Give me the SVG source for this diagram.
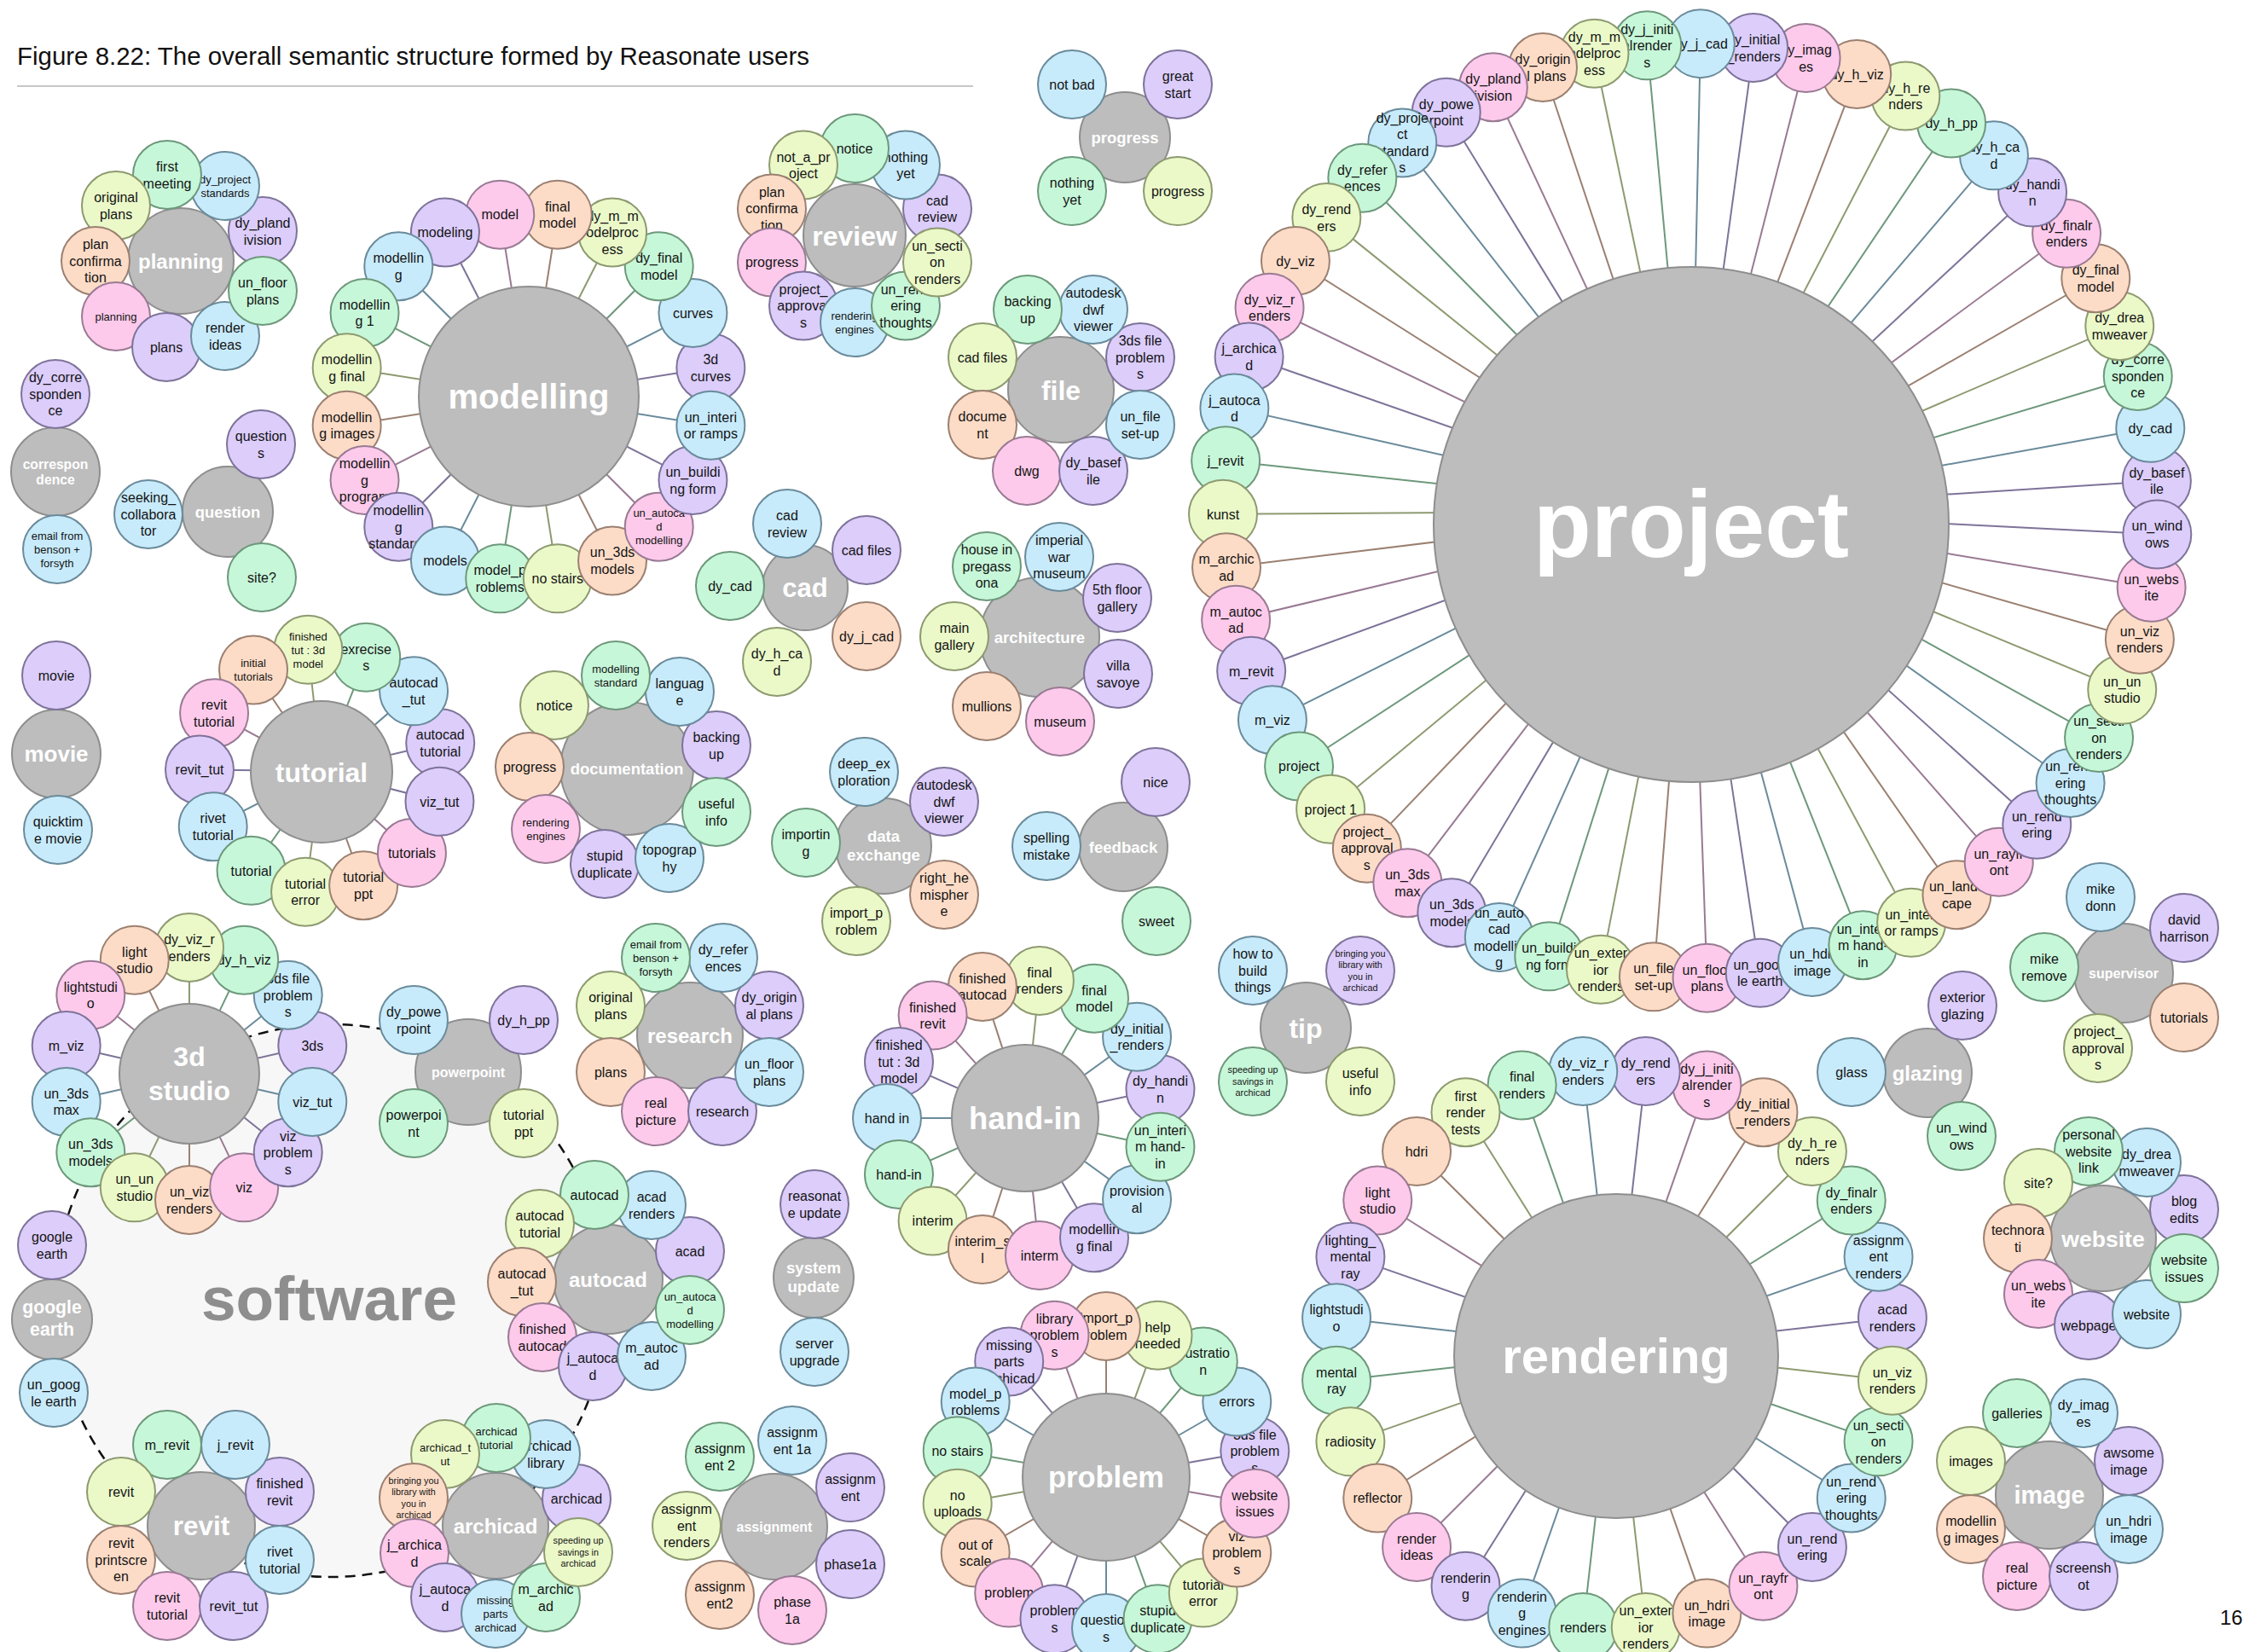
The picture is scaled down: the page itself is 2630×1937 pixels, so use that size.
<svg xmlns="http://www.w3.org/2000/svg" width="2630" height="1937" viewBox="0 0 2630 1937">
<style>
text{font-family:"Liberation Sans",Arial,Helvetica,sans-serif}
.h circle{fill:#bdbdbd;stroke:#8e8e8e;stroke-width:2}
.h text{font-weight:bold;fill:#fff;text-anchor:middle}
.n circle{stroke-width:2}
.n text{font-size:16px;fill:#141414;text-anchor:middle}
.n.s text{font-size:13px}
.n.t text{font-size:10.8px}
.b circle{fill:#c8ebfb;stroke:#6a8b9b}
.g circle{fill:#c7f7d9;stroke:#6d987b}
.y circle{fill:#ebf9c9;stroke:#8d9a70}
.o circle{fill:#fddcc7;stroke:#9b8071}
.p circle{fill:#fdcaeb;stroke:#997a93}
.v circle{fill:#dccdfb;stroke:#7e7399}
#connectors line{stroke-width:2}
.lb{stroke:#6a8b9b}.lg{stroke:#6d987b}.ly{stroke:#8d9a70}.lo{stroke:#9b8071}.lp{stroke:#997a93}.lv{stroke:#7e7399}
</style>
<rect width="2630" height="1937" fill="#fff"/>
<text x="20" y="76" font-size="30" textLength="929" lengthAdjust="spacingAndGlyphs" fill="#111">Figure 8.22: The overall semantic structure formed by Reasonate users</text>
<line x1="20" y1="101" x2="1141" y2="101" stroke="#c6c6c6" stroke-width="2"/>
<text x="2603" y="1905" font-size="24" fill="#111">169</text>

<g id="software"><circle cx="388" cy="1525" r="324" fill="#f7f7f7" stroke="#111" stroke-width="2.5" stroke-dasharray="12 8"/><text x="386" y="1548" font-size="73" font-weight="bold" fill="#8e8e8e" text-anchor="middle">software</text></g>

<g id="connectors">
<g id="c-modelling">
<line x1="620" y1="465" x2="836" y2="465" transform="rotate(-9 620 465)" class="lv"/>
<line x1="620" y1="465" x2="836" y2="465" transform="rotate(-27 620 465)" class="lb"/>
<line x1="620" y1="465" x2="836" y2="465" transform="rotate(-45 620 465)" class="lg"/>
<line x1="620" y1="465" x2="836" y2="465" transform="rotate(-63 620 465)" class="ly"/>
<line x1="620" y1="465" x2="836" y2="465" transform="rotate(-81 620 465)" class="lo"/>
<line x1="620" y1="465" x2="836" y2="465" transform="rotate(-99 620 465)" class="lp"/>
<line x1="620" y1="465" x2="836" y2="465" transform="rotate(-117 620 465)" class="lv"/>
<line x1="620" y1="465" x2="836" y2="465" transform="rotate(-135 620 465)" class="lb"/>
<line x1="620" y1="465" x2="836" y2="465" transform="rotate(-153 620 465)" class="lg"/>
<line x1="620" y1="465" x2="836" y2="465" transform="rotate(-171 620 465)" class="ly"/>
<line x1="620" y1="465" x2="836" y2="465" transform="rotate(171 620 465)" class="lo"/>
<line x1="620" y1="465" x2="836" y2="465" transform="rotate(153 620 465)" class="lp"/>
<line x1="620" y1="465" x2="836" y2="465" transform="rotate(135 620 465)" class="lv"/>
<line x1="620" y1="465" x2="836" y2="465" transform="rotate(117 620 465)" class="lb"/>
<line x1="620" y1="465" x2="836" y2="465" transform="rotate(99 620 465)" class="lg"/>
<line x1="620" y1="465" x2="836" y2="465" transform="rotate(81 620 465)" class="ly"/>
<line x1="620" y1="465" x2="836" y2="465" transform="rotate(63 620 465)" class="lo"/>
<line x1="620" y1="465" x2="836" y2="465" transform="rotate(45 620 465)" class="lp"/>
<line x1="620" y1="465" x2="836" y2="465" transform="rotate(27 620 465)" class="lv"/>
<line x1="620" y1="465" x2="836" y2="465" transform="rotate(9 620 465)" class="lb"/>
</g>
<g id="c-tutorial">
<line x1="377" y1="904" x2="520" y2="904" transform="rotate(346.8 377 904)" class="lv"/>
<line x1="377" y1="904" x2="520" y2="904" transform="rotate(319.1 377 904)" class="lb"/>
<line x1="377" y1="904" x2="520" y2="904" transform="rotate(291.4 377 904)" class="lg"/>
<line x1="377" y1="904" x2="520" y2="904" transform="rotate(263.7 377 904)" class="ly"/>
<line x1="377" y1="904" x2="520" y2="904" transform="rotate(236 377 904)" class="lo"/>
<line x1="377" y1="904" x2="520" y2="904" transform="rotate(208.3 377 904)" class="lp"/>
<line x1="377" y1="904" x2="520" y2="904" transform="rotate(180.6 377 904)" class="lv"/>
<line x1="377" y1="904" x2="520" y2="904" transform="rotate(152.9 377 904)" class="lb"/>
<line x1="377" y1="904" x2="520" y2="904" transform="rotate(125.2 377 904)" class="lg"/>
<line x1="377" y1="904" x2="520" y2="904" transform="rotate(97.6 377 904)" class="ly"/>
<line x1="377" y1="904" x2="520" y2="904" transform="rotate(69.9 377 904)" class="lo"/>
<line x1="377" y1="904" x2="520" y2="904" transform="rotate(42.2 377 904)" class="lp"/>
<line x1="377" y1="904" x2="520" y2="904" transform="rotate(14.5 377 904)" class="lv"/>
</g>
<g id="c-handin">
<line x1="1202" y1="1311" x2="1364" y2="1311" transform="rotate(348 1202 1311)" class="lv"/>
<line x1="1202" y1="1311" x2="1364" y2="1311" transform="rotate(324 1202 1311)" class="lb"/>
<line x1="1202" y1="1311" x2="1364" y2="1311" transform="rotate(300 1202 1311)" class="lg"/>
<line x1="1202" y1="1311" x2="1364" y2="1311" transform="rotate(276 1202 1311)" class="ly"/>
<line x1="1202" y1="1311" x2="1364" y2="1311" transform="rotate(252 1202 1311)" class="lo"/>
<line x1="1202" y1="1311" x2="1364" y2="1311" transform="rotate(228 1202 1311)" class="lp"/>
<line x1="1202" y1="1311" x2="1364" y2="1311" transform="rotate(204 1202 1311)" class="lv"/>
<line x1="1202" y1="1311" x2="1364" y2="1311" transform="rotate(180 1202 1311)" class="lb"/>
<line x1="1202" y1="1311" x2="1364" y2="1311" transform="rotate(156 1202 1311)" class="lg"/>
<line x1="1202" y1="1311" x2="1364" y2="1311" transform="rotate(132 1202 1311)" class="ly"/>
<line x1="1202" y1="1311" x2="1364" y2="1311" transform="rotate(108 1202 1311)" class="lo"/>
<line x1="1202" y1="1311" x2="1364" y2="1311" transform="rotate(84 1202 1311)" class="lp"/>
<line x1="1202" y1="1311" x2="1364" y2="1311" transform="rotate(60 1202 1311)" class="lv"/>
<line x1="1202" y1="1311" x2="1364" y2="1311" transform="rotate(36 1202 1311)" class="lb"/>
<line x1="1202" y1="1311" x2="1364" y2="1311" transform="rotate(12 1202 1311)" class="lg"/>
</g>
<g id="c-problem">
<line x1="1297" y1="1732" x2="1474" y2="1732" transform="rotate(-10 1297 1732)" class="lv"/>
<line x1="1297" y1="1732" x2="1474" y2="1732" transform="rotate(-30 1297 1732)" class="lb"/>
<line x1="1297" y1="1732" x2="1474" y2="1732" transform="rotate(-50 1297 1732)" class="lg"/>
<line x1="1297" y1="1732" x2="1474" y2="1732" transform="rotate(-70 1297 1732)" class="ly"/>
<line x1="1297" y1="1732" x2="1474" y2="1732" transform="rotate(-90 1297 1732)" class="lo"/>
<line x1="1297" y1="1732" x2="1474" y2="1732" transform="rotate(-110 1297 1732)" class="lp"/>
<line x1="1297" y1="1732" x2="1474" y2="1732" transform="rotate(-130 1297 1732)" class="lv"/>
<line x1="1297" y1="1732" x2="1474" y2="1732" transform="rotate(-150 1297 1732)" class="lb"/>
<line x1="1297" y1="1732" x2="1474" y2="1732" transform="rotate(-170 1297 1732)" class="lg"/>
<line x1="1297" y1="1732" x2="1474" y2="1732" transform="rotate(170 1297 1732)" class="ly"/>
<line x1="1297" y1="1732" x2="1474" y2="1732" transform="rotate(150 1297 1732)" class="lo"/>
<line x1="1297" y1="1732" x2="1474" y2="1732" transform="rotate(130 1297 1732)" class="lp"/>
<line x1="1297" y1="1732" x2="1474" y2="1732" transform="rotate(110 1297 1732)" class="lv"/>
<line x1="1297" y1="1732" x2="1474" y2="1732" transform="rotate(90 1297 1732)" class="lb"/>
<line x1="1297" y1="1732" x2="1474" y2="1732" transform="rotate(70 1297 1732)" class="lg"/>
<line x1="1297" y1="1732" x2="1474" y2="1732" transform="rotate(50 1297 1732)" class="ly"/>
<line x1="1297" y1="1732" x2="1474" y2="1732" transform="rotate(30 1297 1732)" class="lo"/>
<line x1="1297" y1="1732" x2="1474" y2="1732" transform="rotate(10 1297 1732)" class="lp"/>
</g>
<g id="c-3dstudio">
<line x1="222" y1="1259" x2="370" y2="1259" transform="rotate(-12.86 222 1259)" class="lv"/>
<line x1="222" y1="1259" x2="370" y2="1259" transform="rotate(-38.57 222 1259)" class="lb"/>
<line x1="222" y1="1259" x2="370" y2="1259" transform="rotate(-64.29 222 1259)" class="lg"/>
<line x1="222" y1="1259" x2="370" y2="1259" transform="rotate(-90 222 1259)" class="ly"/>
<line x1="222" y1="1259" x2="370" y2="1259" transform="rotate(-115.71 222 1259)" class="lo"/>
<line x1="222" y1="1259" x2="370" y2="1259" transform="rotate(-141.43 222 1259)" class="lp"/>
<line x1="222" y1="1259" x2="370" y2="1259" transform="rotate(-167.14 222 1259)" class="lv"/>
<line x1="222" y1="1259" x2="370" y2="1259" transform="rotate(167.14 222 1259)" class="lb"/>
<line x1="222" y1="1259" x2="370" y2="1259" transform="rotate(141.43 222 1259)" class="lg"/>
<line x1="222" y1="1259" x2="370" y2="1259" transform="rotate(115.71 222 1259)" class="ly"/>
<line x1="222" y1="1259" x2="370" y2="1259" transform="rotate(90 222 1259)" class="lo"/>
<line x1="222" y1="1259" x2="370" y2="1259" transform="rotate(64.29 222 1259)" class="lp"/>
<line x1="222" y1="1259" x2="370" y2="1259" transform="rotate(38.57 222 1259)" class="lv"/>
<line x1="222" y1="1259" x2="370" y2="1259" transform="rotate(12.86 222 1259)" class="lb"/>
</g>
<g id="c-project">
<line x1="1982" y1="599" x2="2530" y2="599" transform="rotate(356.33 1982 599)" class="lv"/>
<line x1="1982" y1="599" x2="2530" y2="599" transform="rotate(349.78 1982 599)" class="lb"/>
<line x1="1982" y1="599" x2="2530" y2="599" transform="rotate(343.24 1982 599)" class="lg"/>
<line x1="1982" y1="599" x2="2530" y2="599" transform="rotate(336.69 1982 599)" class="ly"/>
<line x1="1982" y1="599" x2="2530" y2="599" transform="rotate(330.15 1982 599)" class="lo"/>
<line x1="1982" y1="599" x2="2530" y2="599" transform="rotate(323.6 1982 599)" class="lp"/>
<line x1="1982" y1="599" x2="2530" y2="599" transform="rotate(317.05 1982 599)" class="lv"/>
<line x1="1982" y1="599" x2="2530" y2="599" transform="rotate(310.51 1982 599)" class="lb"/>
<line x1="1982" y1="599" x2="2530" y2="599" transform="rotate(303.96 1982 599)" class="lg"/>
<line x1="1982" y1="599" x2="2530" y2="599" transform="rotate(297.42 1982 599)" class="ly"/>
<line x1="1982" y1="599" x2="2530" y2="599" transform="rotate(290.87 1982 599)" class="lo"/>
<line x1="1982" y1="599" x2="2530" y2="599" transform="rotate(284.33 1982 599)" class="lp"/>
<line x1="1982" y1="599" x2="2530" y2="599" transform="rotate(277.78 1982 599)" class="lv"/>
<line x1="1982" y1="599" x2="2530" y2="599" transform="rotate(271.24 1982 599)" class="lb"/>
<line x1="1982" y1="599" x2="2530" y2="599" transform="rotate(264.69 1982 599)" class="lg"/>
<line x1="1982" y1="599" x2="2530" y2="599" transform="rotate(258.15 1982 599)" class="ly"/>
<line x1="1982" y1="599" x2="2530" y2="599" transform="rotate(251.6 1982 599)" class="lo"/>
<line x1="1982" y1="599" x2="2530" y2="599" transform="rotate(245.05 1982 599)" class="lp"/>
<line x1="1982" y1="599" x2="2530" y2="599" transform="rotate(238.51 1982 599)" class="lv"/>
<line x1="1982" y1="599" x2="2530" y2="599" transform="rotate(231.96 1982 599)" class="lb"/>
<line x1="1982" y1="599" x2="2530" y2="599" transform="rotate(225.42 1982 599)" class="lg"/>
<line x1="1982" y1="599" x2="2530" y2="599" transform="rotate(218.87 1982 599)" class="ly"/>
<line x1="1982" y1="599" x2="2530" y2="599" transform="rotate(212.33 1982 599)" class="lo"/>
<line x1="1982" y1="599" x2="2530" y2="599" transform="rotate(205.78 1982 599)" class="lp"/>
<line x1="1982" y1="599" x2="2530" y2="599" transform="rotate(199.24 1982 599)" class="lv"/>
<line x1="1982" y1="599" x2="2530" y2="599" transform="rotate(192.69 1982 599)" class="lb"/>
<line x1="1982" y1="599" x2="2530" y2="599" transform="rotate(186.15 1982 599)" class="lg"/>
<line x1="1982" y1="599" x2="2530" y2="599" transform="rotate(179.6 1982 599)" class="ly"/>
<line x1="1982" y1="599" x2="2530" y2="599" transform="rotate(173.05 1982 599)" class="lo"/>
<line x1="1982" y1="599" x2="2530" y2="599" transform="rotate(166.51 1982 599)" class="lp"/>
<line x1="1982" y1="599" x2="2530" y2="599" transform="rotate(159.96 1982 599)" class="lv"/>
<line x1="1982" y1="599" x2="2530" y2="599" transform="rotate(153.42 1982 599)" class="lb"/>
<line x1="1982" y1="599" x2="2530" y2="599" transform="rotate(146.87 1982 599)" class="lg"/>
<line x1="1982" y1="599" x2="2530" y2="599" transform="rotate(140.33 1982 599)" class="ly"/>
<line x1="1982" y1="599" x2="2530" y2="599" transform="rotate(133.78 1982 599)" class="lo"/>
<line x1="1982" y1="599" x2="2530" y2="599" transform="rotate(127.24 1982 599)" class="lp"/>
<line x1="1982" y1="599" x2="2530" y2="599" transform="rotate(120.69 1982 599)" class="lv"/>
<line x1="1982" y1="599" x2="2530" y2="599" transform="rotate(114.15 1982 599)" class="lb"/>
<line x1="1982" y1="599" x2="2530" y2="599" transform="rotate(107.6 1982 599)" class="lg"/>
<line x1="1982" y1="599" x2="2530" y2="599" transform="rotate(101.05 1982 599)" class="ly"/>
<line x1="1982" y1="599" x2="2530" y2="599" transform="rotate(94.51 1982 599)" class="lo"/>
<line x1="1982" y1="599" x2="2530" y2="599" transform="rotate(87.96 1982 599)" class="lp"/>
<line x1="1982" y1="599" x2="2530" y2="599" transform="rotate(81.42 1982 599)" class="lv"/>
<line x1="1982" y1="599" x2="2530" y2="599" transform="rotate(74.87 1982 599)" class="lb"/>
<line x1="1982" y1="599" x2="2530" y2="599" transform="rotate(68.33 1982 599)" class="lg"/>
<line x1="1982" y1="599" x2="2530" y2="599" transform="rotate(61.78 1982 599)" class="ly"/>
<line x1="1982" y1="599" x2="2530" y2="599" transform="rotate(55.24 1982 599)" class="lo"/>
<line x1="1982" y1="599" x2="2530" y2="599" transform="rotate(48.69 1982 599)" class="lp"/>
<line x1="1982" y1="599" x2="2530" y2="599" transform="rotate(42.15 1982 599)" class="lv"/>
<line x1="1982" y1="599" x2="2530" y2="599" transform="rotate(35.6 1982 599)" class="lb"/>
<line x1="1982" y1="599" x2="2530" y2="599" transform="rotate(29.05 1982 599)" class="lg"/>
<line x1="1982" y1="599" x2="2530" y2="599" transform="rotate(22.51 1982 599)" class="ly"/>
<line x1="1982" y1="599" x2="2530" y2="599" transform="rotate(15.96 1982 599)" class="lo"/>
<line x1="1982" y1="599" x2="2530" y2="599" transform="rotate(9.42 1982 599)" class="lp"/>
<line x1="1982" y1="599" x2="2530" y2="599" transform="rotate(2.87 1982 599)" class="lv"/>
</g>
<g id="c-rendering">
<line x1="1893" y1="1582" x2="2221" y2="1582" transform="rotate(353.57 1893 1582)" class="lv"/>
<line x1="1893" y1="1582" x2="2221" y2="1582" transform="rotate(340.71 1893 1582)" class="lb"/>
<line x1="1893" y1="1582" x2="2221" y2="1582" transform="rotate(327.86 1893 1582)" class="lg"/>
<line x1="1893" y1="1582" x2="2221" y2="1582" transform="rotate(315 1893 1582)" class="ly"/>
<line x1="1893" y1="1582" x2="2221" y2="1582" transform="rotate(302.14 1893 1582)" class="lo"/>
<line x1="1893" y1="1582" x2="2221" y2="1582" transform="rotate(289.29 1893 1582)" class="lp"/>
<line x1="1893" y1="1582" x2="2221" y2="1582" transform="rotate(276.43 1893 1582)" class="lv"/>
<line x1="1893" y1="1582" x2="2221" y2="1582" transform="rotate(263.57 1893 1582)" class="lb"/>
<line x1="1893" y1="1582" x2="2221" y2="1582" transform="rotate(250.71 1893 1582)" class="lg"/>
<line x1="1893" y1="1582" x2="2221" y2="1582" transform="rotate(237.86 1893 1582)" class="ly"/>
<line x1="1893" y1="1582" x2="2221" y2="1582" transform="rotate(225 1893 1582)" class="lo"/>
<line x1="1893" y1="1582" x2="2221" y2="1582" transform="rotate(212.14 1893 1582)" class="lp"/>
<line x1="1893" y1="1582" x2="2221" y2="1582" transform="rotate(199.29 1893 1582)" class="lv"/>
<line x1="1893" y1="1582" x2="2221" y2="1582" transform="rotate(186.43 1893 1582)" class="lb"/>
<line x1="1893" y1="1582" x2="2221" y2="1582" transform="rotate(173.57 1893 1582)" class="lg"/>
<line x1="1893" y1="1582" x2="2221" y2="1582" transform="rotate(160.71 1893 1582)" class="ly"/>
<line x1="1893" y1="1582" x2="2221" y2="1582" transform="rotate(147.86 1893 1582)" class="lo"/>
<line x1="1893" y1="1582" x2="2221" y2="1582" transform="rotate(135 1893 1582)" class="lp"/>
<line x1="1893" y1="1582" x2="2221" y2="1582" transform="rotate(122.14 1893 1582)" class="lv"/>
<line x1="1893" y1="1582" x2="2221" y2="1582" transform="rotate(109.29 1893 1582)" class="lb"/>
<line x1="1893" y1="1582" x2="2221" y2="1582" transform="rotate(96.43 1893 1582)" class="lg"/>
<line x1="1893" y1="1582" x2="2221" y2="1582" transform="rotate(83.57 1893 1582)" class="ly"/>
<line x1="1893" y1="1582" x2="2221" y2="1582" transform="rotate(70.71 1893 1582)" class="lo"/>
<line x1="1893" y1="1582" x2="2221" y2="1582" transform="rotate(57.86 1893 1582)" class="lp"/>
<line x1="1893" y1="1582" x2="2221" y2="1582" transform="rotate(45 1893 1582)" class="lv"/>
<line x1="1893" y1="1582" x2="2221" y2="1582" transform="rotate(32.14 1893 1582)" class="lb"/>
<line x1="1893" y1="1582" x2="2221" y2="1582" transform="rotate(19.29 1893 1582)" class="lg"/>
<line x1="1893" y1="1582" x2="2221" y2="1582" transform="rotate(6.43 1893 1582)" class="ly"/>
</g>
</g>

<!-- planning -->
<g id="hub-planning" class="h"><circle cx="212" cy="306" r="62"/><text x="212" y="315" font-size="24">planning</text></g>
<g id="pl-dy-plandivision" class="n v" transform="translate(308 271)"><circle r="40"/><text y="-4">dy_pland<tspan x="0" dy="19.5">ivision</tspan></text></g>
<g id="pl-dy-project-standards" class="n b s" transform="translate(264 218)"><circle r="40"/><text y="-3.3">dy_project<tspan x="0" dy="16">standards</tspan></text></g>
<g id="pl-first-meeting" class="n g" transform="translate(196 205)"><circle r="40"/><text y="-4">first<tspan x="0" dy="19.5">meeting</tspan></text></g>
<g id="pl-original-plans" class="n y" transform="translate(136 241)"><circle r="40"/><text y="-4">original<tspan x="0" dy="19.5">plans</tspan></text></g>
<g id="pl-plan-confirmation" class="n o" transform="translate(112 306)"><circle r="40"/><text y="-13.7">plan<tspan x="0" dy="19.5">confirma</tspan><tspan x="0" dy="19.5">tion</tspan></text></g>
<g id="pl-planning" class="n p s" transform="translate(136 371)"><circle r="40"/><text y="4.7">planning</text></g>
<g id="pl-plans" class="n v" transform="translate(195 407)"><circle r="40"/><text y="5.8">plans</text></g>
<g id="pl-render-ideas" class="n b" transform="translate(264 394)"><circle r="40"/><text y="-4">render<tspan x="0" dy="19.5">ideas</tspan></text></g>
<g id="pl-un-floor-plans" class="n g" transform="translate(308 341)"><circle r="40"/><text y="-4">un_floor<tspan x="0" dy="19.5">plans</tspan></text></g>

<!-- modelling -->
<g id="hub-modelling" class="h"><circle cx="620" cy="465" r="129"/><text x="620" y="479" font-size="40">modelling</text></g>
<g id="mo-3d-curves" class="n v" transform="rotate(-9 620 465) translate(836 465) rotate(9)"><circle r="40"/><text y="-4">3d<tspan x="0" dy="19.5">curves</tspan></text></g>
<g id="mo-curves" class="n b" transform="rotate(-27 620 465) translate(836 465) rotate(27)"><circle r="40"/><text y="5.8">curves</text></g>
<g id="mo-dy-final-model" class="n g" transform="rotate(-45 620 465) translate(836 465) rotate(45)"><circle r="40"/><text y="-4">dy_final<tspan x="0" dy="19.5">model</tspan></text></g>
<g id="mo-dy-m-modelprocess" class="n y" transform="rotate(-63 620 465) translate(836 465) rotate(63)"><circle r="40"/><text y="-13.7">dy_m_m<tspan x="0" dy="19.5">odelproc</tspan><tspan x="0" dy="19.5">ess</tspan></text></g>
<g id="mo-final-model" class="n o" transform="rotate(-81 620 465) translate(836 465) rotate(81)"><circle r="40"/><text y="-4">final<tspan x="0" dy="19.5">model</tspan></text></g>
<g id="mo-model" class="n p" transform="rotate(-99 620 465) translate(836 465) rotate(99)"><circle r="40"/><text y="5.8">model</text></g>
<g id="mo-modeling" class="n v" transform="rotate(-117 620 465) translate(836 465) rotate(117)"><circle r="40"/><text y="5.8">modeling</text></g>
<g id="mo-modelling" class="n b" transform="rotate(-135 620 465) translate(836 465) rotate(135)"><circle r="40"/><text y="-4">modellin<tspan x="0" dy="19.5">g</tspan></text></g>
<g id="mo-modelling-1" class="n g" transform="rotate(-153 620 465) translate(836 465) rotate(153)"><circle r="40"/><text y="-4">modellin<tspan x="0" dy="19.5">g 1</tspan></text></g>
<g id="mo-modelling-final" class="n y" transform="rotate(-171 620 465) translate(836 465) rotate(171)"><circle r="40"/><text y="-4">modellin<tspan x="0" dy="19.5">g final</tspan></text></g>
<g id="mo-modelling-images" class="n o" transform="rotate(171 620 465) translate(836 465) rotate(-171)"><circle r="40"/><text y="-4">modellin<tspan x="0" dy="19.5">g images</tspan></text></g>
<g id="mo-modelling-program" class="n p" transform="rotate(153 620 465) translate(836 465) rotate(-153)"><circle r="40"/><text y="-13.7">modellin<tspan x="0" dy="19.5">g</tspan><tspan x="0" dy="19.5">program</tspan></text></g>
<g id="mo-modelling-standards" class="n v" transform="rotate(135 620 465) translate(836 465) rotate(-135)"><circle r="40"/><text y="-13.7">modellin<tspan x="0" dy="19.5">g</tspan><tspan x="0" dy="19.5">standards</tspan></text></g>
<g id="mo-models" class="n b" transform="rotate(117 620 465) translate(836 465) rotate(-117)"><circle r="40"/><text y="5.8">models</text></g>
<g id="mo-model-problems" class="n g" transform="rotate(99 620 465) translate(836 465) rotate(-99)"><circle r="40"/><text y="-4">model_p<tspan x="0" dy="19.5">roblems</tspan></text></g>
<g id="mo-no-stairs" class="n y" transform="rotate(81 620 465) translate(836 465) rotate(-81)"><circle r="40"/><text y="5.8">no stairs</text></g>
<g id="mo-un-3ds-models" class="n o" transform="rotate(63 620 465) translate(836 465) rotate(-63)"><circle r="40"/><text y="-4">un_3ds<tspan x="0" dy="19.5">models</tspan></text></g>
<g id="mo-un-autocad-modelling" class="n p s" transform="rotate(45 620 465) translate(836 465) rotate(-45)"><circle r="40"/><text y="-11.3">un_autoca<tspan x="0" dy="16">d</tspan><tspan x="0" dy="16">modelling</tspan></text></g>
<g id="mo-un-building-form" class="n v" transform="rotate(27 620 465) translate(836 465) rotate(-27)"><circle r="40"/><text y="-4">un_buildi<tspan x="0" dy="19.5">ng form</tspan></text></g>
<g id="mo-un-interior-ramps" class="n b" transform="rotate(9 620 465) translate(836 465) rotate(-9)"><circle r="40"/><text y="-4">un_interi<tspan x="0" dy="19.5">or ramps</tspan></text></g>

<!-- review -->
<g id="hub-review" class="h"><circle cx="1002" cy="276" r="60"/><text x="1002" y="287.5" font-size="32">review</text></g>
<g id="rv-cad-review" class="n v" transform="translate(1099 244.5)"><circle r="40"/><text y="-4">cad<tspan x="0" dy="19.5">review</tspan></text></g>
<g id="rv-nothing-yet" class="n b" transform="translate(1062 193.5)"><circle r="40"/><text y="-4">nothing<tspan x="0" dy="19.5">yet</tspan></text></g>
<g id="rv-notice" class="n g" transform="translate(1002 174)"><circle r="40"/><text y="5.8">notice</text></g>
<g id="rv-not-a-project" class="n y" transform="translate(942 193.5)"><circle r="40"/><text y="-4">not_a_pr<tspan x="0" dy="19.5">oject</tspan></text></g>
<g id="rv-plan-confirmation" class="n o" transform="translate(905 244.5)"><circle r="40"/><text y="-13.7">plan<tspan x="0" dy="19.5">confirma</tspan><tspan x="0" dy="19.5">tion</tspan></text></g>
<g id="rv-progress" class="n p" transform="translate(905 307.5)"><circle r="40"/><text y="5.8">progress</text></g>
<g id="rv-project-approvals" class="n v" transform="translate(942 358.5)"><circle r="40"/><text y="-13.7">project_<tspan x="0" dy="19.5">approval</tspan><tspan x="0" dy="19.5">s</tspan></text></g>
<g id="rv-rendering-engines" class="n b s" transform="translate(1002 378)"><circle r="40"/><text y="-3.3">rendering<tspan x="0" dy="16">engines</tspan></text></g>
<g id="rv-un-rendering-thoughts" class="n g" transform="translate(1062 358.5)"><circle r="40"/><text y="-13.7">un_rend<tspan x="0" dy="19.5">ering</tspan><tspan x="0" dy="19.5">thoughts</tspan></text></g>
<g id="rv-un-section-renders" class="n y" transform="translate(1099 307.5)"><circle r="40"/><text y="-13.7">un_secti<tspan x="0" dy="19.5">on</tspan><tspan x="0" dy="19.5">renders</tspan></text></g>

<!-- progress -->
<g id="hub-progress" class="h"><circle cx="1319" cy="161" r="53"/><text x="1319" y="167.5" font-size="18.5">progress</text></g>
<g id="pg-great-start" class="n v" transform="translate(1381 99)"><circle r="40"/><text y="-4">great<tspan x="0" dy="19.5">start</tspan></text></g>
<g id="pg-not-bad" class="n b" transform="translate(1257 99)"><circle r="40"/><text y="5.8">not bad</text></g>
<g id="pg-nothing-yet" class="n g" transform="translate(1257 224)"><circle r="40"/><text y="-4">nothing<tspan x="0" dy="19.5">yet</tspan></text></g>
<g id="pg-progress" class="n y" transform="translate(1381 224)"><circle r="40"/><text y="5.8">progress</text></g>

<!-- file -->
<g id="hub-file" class="h"><circle cx="1244" cy="457" r="62"/><text x="1244" y="468.5" font-size="32">file</text></g>
<g id="fi-3ds-file-problems" class="n v" transform="translate(1337 419)"><circle r="40"/><text y="-13.7">3ds file<tspan x="0" dy="19.5">problem</tspan><tspan x="0" dy="19.5">s</tspan></text></g>
<g id="fi-autodesk-dwf-viewer" class="n b" transform="translate(1282 363)"><circle r="40"/><text y="-13.7">autodesk<tspan x="0" dy="19.5">dwf</tspan><tspan x="0" dy="19.5">viewer</tspan></text></g>
<g id="fi-backing-up" class="n g" transform="translate(1205 363)"><circle r="40"/><text y="-4">backing<tspan x="0" dy="19.5">up</tspan></text></g>
<g id="fi-cad-files" class="n y" transform="translate(1152 419)"><circle r="40"/><text y="5.8">cad files</text></g>
<g id="fi-document" class="n o" transform="translate(1152 498)"><circle r="40"/><text y="-4">docume<tspan x="0" dy="19.5">nt</tspan></text></g>
<g id="fi-dwg" class="n p" transform="translate(1204 552)"><circle r="40"/><text y="5.8">dwg</text></g>
<g id="fi-dy-basefile" class="n v" transform="translate(1282 552)"><circle r="40"/><text y="-4">dy_basef<tspan x="0" dy="19.5">ile</tspan></text></g>
<g id="fi-un-file-set-up" class="n b" transform="translate(1337 498)"><circle r="40"/><text y="-4">un_file<tspan x="0" dy="19.5">set-up</tspan></text></g>

<!-- cad -->
<g id="hub-cad" class="h"><circle cx="944" cy="689" r="50"/><text x="944" y="700" font-size="31">cad</text></g>
<g id="ca-cad-files" class="n v" transform="translate(1016 645)"><circle r="40"/><text y="5.8">cad files</text></g>
<g id="ca-cad-review" class="n b" transform="translate(923 614)"><circle r="40"/><text y="-4">cad<tspan x="0" dy="19.5">review</tspan></text></g>
<g id="ca-dy-cad" class="n g" transform="translate(856 687)"><circle r="40"/><text y="5.8">dy_cad</text></g>
<g id="ca-dy-h-cad" class="n y" transform="translate(911 776)"><circle r="40"/><text y="-4">dy_h_ca<tspan x="0" dy="19.5">d</tspan></text></g>
<g id="ca-dy-j-cad" class="n o" transform="translate(1016 746)"><circle r="40"/><text y="5.8">dy_j_cad</text></g>

<!-- architecture -->
<g id="hub-architecture" class="h"><circle cx="1219" cy="747" r="70"/><text x="1219" y="753.7" font-size="18.6">architecture</text></g>
<g id="ar-5th-floor-gallery" class="n v" transform="translate(1310 701)"><circle r="40"/><text y="-4">5th floor<tspan x="0" dy="19.5">gallery</tspan></text></g>
<g id="ar-imperial-war-museum" class="n b" transform="translate(1242 653)"><circle r="40"/><text y="-13.7">imperial<tspan x="0" dy="19.5">war</tspan><tspan x="0" dy="19.5">museum</tspan></text></g>
<g id="ar-house-in-pregassona" class="n g" transform="translate(1157 664)"><circle r="40"/><text y="-13.7">house in<tspan x="0" dy="19.5">pregass</tspan><tspan x="0" dy="19.5">ona</tspan></text></g>
<g id="ar-main-gallery" class="n y" transform="translate(1119 746)"><circle r="40"/><text y="-4">main<tspan x="0" dy="19.5">gallery</tspan></text></g>
<g id="ar-mullions" class="n o" transform="translate(1157 828)"><circle r="40"/><text y="5.8">mullions</text></g>
<g id="ar-museum" class="n p" transform="translate(1243 846)"><circle r="40"/><text y="5.8">museum</text></g>
<g id="ar-villa-savoye" class="n v" transform="translate(1311 790)"><circle r="40"/><text y="-4">villa<tspan x="0" dy="19.5">savoye</tspan></text></g>

<!-- question -->
<g id="hub-question" class="h"><circle cx="267" cy="600" r="53"/><text x="267" y="606.6" font-size="18.4">question</text></g>
<g id="qu-questions" class="n v" transform="translate(306 521)"><circle r="40"/><text y="-4">question<tspan x="0" dy="19.5">s</tspan></text></g>
<g id="qu-seeking-collaborator" class="n b" transform="translate(174 603)"><circle r="40"/><text y="-13.7">seeking_<tspan x="0" dy="19.5">collabora</tspan><tspan x="0" dy="19.5">tor</tspan></text></g>
<g id="qu-site" class="n g" transform="translate(307 677)"><circle r="40"/><text y="5.8">site?</text></g>

<!-- correspondence -->
<g id="hub-correspondence" class="h"><circle cx="65" cy="553" r="52"/><text x="65" y="549.5" font-size="15.7">correspon<tspan x="65" dy="18">dence</tspan></text></g>
<g id="co-dy-correspondence" class="n v" transform="translate(65 462)"><circle r="40"/><text y="-13.7">dy_corre<tspan x="0" dy="19.5">sponden</tspan><tspan x="0" dy="19.5">ce</tspan></text></g>
<g id="co-email" class="n b s" transform="translate(67 644)"><circle r="40"/><text y="-11.3">email from<tspan x="0" dy="16">benson +</tspan><tspan x="0" dy="16">forsyth</tspan></text></g>

<!-- movie -->
<g id="hub-movie" class="h"><circle cx="66" cy="884" r="52"/><text x="66" y="893" font-size="26">movie</text></g>
<g id="mv-movie" class="n v" transform="translate(66 792)"><circle r="40"/><text y="5.8">movie</text></g>
<g id="mv-quicktime-movie" class="n b" transform="translate(68 973)"><circle r="40"/><text y="-4">quicktim<tspan x="0" dy="19.5">e movie</tspan></text></g>

<!-- tutorial -->
<g id="hub-tutorial" class="h"><circle cx="377" cy="905" r="83"/><text x="377" y="916.5" font-size="32">tutorial</text></g>
<g id="tu-autocad-tutorial" class="n v" transform="rotate(346.8 377 904) translate(520 904) rotate(-346.8)"><circle r="40"/><text y="-4">autocad<tspan x="0" dy="19.5">tutorial</tspan></text></g>
<g id="tu-autocad-tut" class="n b" transform="rotate(319.1 377 904) translate(520 904) rotate(-319.1)"><circle r="40"/><text y="-4">autocad<tspan x="0" dy="19.5">_tut</tspan></text></g>
<g id="tu-exrecises" class="n g" transform="rotate(291.4 377 904) translate(520 904) rotate(-291.4)"><circle r="40"/><text y="-4">exrecise<tspan x="0" dy="19.5">s</tspan></text></g>
<g id="tu-finished-tut" class="n y s" transform="rotate(263.7 377 904) translate(520 904) rotate(-263.7)"><circle r="40"/><text y="-11.3">finished<tspan x="0" dy="16">tut : 3d</tspan><tspan x="0" dy="16">model</tspan></text></g>
<g id="tu-initial-tutorials" class="n o s" transform="rotate(236 377 904) translate(520 904) rotate(-236)"><circle r="40"/><text y="-3.3">initial<tspan x="0" dy="16">tutorials</tspan></text></g>
<g id="tu-revit-tutorial" class="n p" transform="rotate(208.3 377 904) translate(520 904) rotate(-208.3)"><circle r="40"/><text y="-4">revit<tspan x="0" dy="19.5">tutorial</tspan></text></g>
<g id="tu-revit-tut" class="n v" transform="rotate(180.6 377 904) translate(520 904) rotate(-180.6)"><circle r="40"/><text y="5.8">revit_tut</text></g>
<g id="tu-rivet-tutorial" class="n b" transform="rotate(152.9 377 904) translate(520 904) rotate(-152.9)"><circle r="40"/><text y="-4">rivet<tspan x="0" dy="19.5">tutorial</tspan></text></g>
<g id="tu-tutorial" class="n g" transform="rotate(125.2 377 904) translate(520 904) rotate(-125.2)"><circle r="40"/><text y="5.8">tutorial</text></g>
<g id="tu-tutorial-error" class="n y" transform="rotate(97.6 377 904) translate(520 904) rotate(-97.6)"><circle r="40"/><text y="-4">tutorial<tspan x="0" dy="19.5">error</tspan></text></g>
<g id="tu-tutorial-ppt" class="n o" transform="rotate(69.9 377 904) translate(520 904) rotate(-69.9)"><circle r="40"/><text y="-4">tutorial<tspan x="0" dy="19.5">ppt</tspan></text></g>
<g id="tu-tutorials" class="n p" transform="rotate(42.2 377 904) translate(520 904) rotate(-42.2)"><circle r="40"/><text y="5.8">tutorials</text></g>
<g id="tu-viz-tut" class="n v" transform="rotate(14.5 377 904) translate(520 904) rotate(-14.5)"><circle r="40"/><text y="5.8">viz_tut</text></g>

<!-- documentation -->
<g id="hub-documentation" class="h"><circle cx="735" cy="901" r="78"/><text x="735" y="907.7" font-size="18.5">documentation</text></g>
<g id="do-backing-up" class="n v" transform="translate(840 874)"><circle r="40"/><text y="-4">backing<tspan x="0" dy="19.5">up</tspan></text></g>
<g id="do-language" class="n b" transform="translate(797 811)"><circle r="40"/><text y="-4">languag<tspan x="0" dy="19.5">e</tspan></text></g>
<g id="do-modelling-standard" class="n g s" transform="translate(722 792)"><circle r="40"/><text y="-3.3">modelling<tspan x="0" dy="16">standard</tspan></text></g>
<g id="do-notice" class="n y" transform="translate(650 827)"><circle r="40"/><text y="5.8">notice</text></g>
<g id="do-progress" class="n o" transform="translate(621 899)"><circle r="40"/><text y="5.8">progress</text></g>
<g id="do-rendering-engines" class="n p s" transform="translate(640 972)"><circle r="40"/><text y="-3.3">rendering<tspan x="0" dy="16">engines</tspan></text></g>
<g id="do-stupid-duplicate" class="n v" transform="translate(709 1013)"><circle r="40"/><text y="-4">stupid<tspan x="0" dy="19.5">duplicate</tspan></text></g>
<g id="do-topography" class="n b" transform="translate(785 1006)"><circle r="40"/><text y="-4">topograp<tspan x="0" dy="19.5">hy</tspan></text></g>
<g id="do-useful-info" class="n g" transform="translate(840 952)"><circle r="40"/><text y="-4">useful<tspan x="0" dy="19.5">info</tspan></text></g>

<!-- data exchange -->
<g id="hub-data-exchange" class="h"><circle cx="1036" cy="992" r="56"/><text x="1036" y="986.7" font-size="18.6">data<tspan x="1036" dy="22.5">exchange</tspan></text></g>
<g id="dx-autodesk-dwf-viewer" class="n v" transform="translate(1107 940)"><circle r="40"/><text y="-13.7">autodesk<tspan x="0" dy="19.5">dwf</tspan><tspan x="0" dy="19.5">viewer</tspan></text></g>
<g id="dx-deep-exploration" class="n b" transform="translate(1013 905)"><circle r="40"/><text y="-4">deep_ex<tspan x="0" dy="19.5">ploration</tspan></text></g>
<g id="dx-importing" class="n g" transform="translate(945 988)"><circle r="40"/><text y="-4">importin<tspan x="0" dy="19.5">g</tspan></text></g>
<g id="dx-import-problem" class="n y" transform="translate(1004 1080)"><circle r="40"/><text y="-4">import_p<tspan x="0" dy="19.5">roblem</tspan></text></g>
<g id="dx-right-hemisphere" class="n o" transform="translate(1107 1049)"><circle r="40"/><text y="-13.7">right_he<tspan x="0" dy="19.5">mispher</tspan><tspan x="0" dy="19.5">e</tspan></text></g>

<!-- feedback -->
<g id="hub-feedback" class="h"><circle cx="1317" cy="993" r="52"/><text x="1317" y="999.7" font-size="18.6">feedback</text></g>
<g id="fb-nice" class="n v" transform="translate(1355 917)"><circle r="40"/><text y="5.8">nice</text></g>
<g id="fb-spelling-mistake" class="n b" transform="translate(1227 992)"><circle r="40"/><text y="-4">spelling<tspan x="0" dy="19.5">mistake</tspan></text></g>
<g id="fb-sweet" class="n g" transform="translate(1356 1080)"><circle r="40"/><text y="5.8">sweet</text></g>

<!-- research -->
<g id="hub-research" class="h"><circle cx="809" cy="1214" r="62"/><text x="809" y="1222.6" font-size="24">research</text></g>
<g id="re-dy-original-plans" class="n v" transform="translate(902 1179)"><circle r="40"/><text y="-4">dy_origin<tspan x="0" dy="19.5">al plans</tspan></text></g>
<g id="re-dy-references" class="n b" transform="translate(848 1123)"><circle r="40"/><text y="-4">dy_refer<tspan x="0" dy="19.5">ences</tspan></text></g>
<g id="re-email" class="n g s" transform="translate(769 1123)"><circle r="40"/><text y="-11.3">email from<tspan x="0" dy="16">benson +</tspan><tspan x="0" dy="16">forsyth</tspan></text></g>
<g id="re-original-plans" class="n y" transform="translate(716 1179)"><circle r="40"/><text y="-4">original<tspan x="0" dy="19.5">plans</tspan></text></g>
<g id="re-plans" class="n o" transform="translate(716 1257)"><circle r="40"/><text y="5.8">plans</text></g>
<g id="re-real-picture" class="n p" transform="translate(769 1303)"><circle r="40"/><text y="-4">real<tspan x="0" dy="19.5">picture</tspan></text></g>
<g id="re-research" class="n v" transform="translate(847 1303)"><circle r="40"/><text y="5.8">research</text></g>
<g id="re-un-floor-plans" class="n b" transform="translate(902 1257)"><circle r="40"/><text y="-4">un_floor<tspan x="0" dy="19.5">plans</tspan></text></g>

<!-- hand-in -->
<g id="hub-hand-in" class="h"><circle cx="1202" cy="1311" r="86"/><text x="1202" y="1324" font-size="36.5">hand-in</text></g>
<g id="hi-dy-handin" class="n v" transform="rotate(348 1202 1311) translate(1364 1311) rotate(-348)"><circle r="40"/><text y="-4">dy_handi<tspan x="0" dy="19.5">n</tspan></text></g>
<g id="hi-dy-initial-renders" class="n b" transform="rotate(324 1202 1311) translate(1364 1311) rotate(-324)"><circle r="40"/><text y="-4">dy_initial<tspan x="0" dy="19.5">_renders</tspan></text></g>
<g id="hi-final-model" class="n g" transform="rotate(300 1202 1311) translate(1364 1311) rotate(-300)"><circle r="40"/><text y="-4">final<tspan x="0" dy="19.5">model</tspan></text></g>
<g id="hi-final-renders" class="n y" transform="rotate(276 1202 1311) translate(1364 1311) rotate(-276)"><circle r="40"/><text y="-4">final<tspan x="0" dy="19.5">renders</tspan></text></g>
<g id="hi-finished-autocad" class="n o" transform="rotate(252 1202 1311) translate(1364 1311) rotate(-252)"><circle r="40"/><text y="-4">finished<tspan x="0" dy="19.5">autocad</tspan></text></g>
<g id="hi-finished-revit" class="n p" transform="rotate(228 1202 1311) translate(1364 1311) rotate(-228)"><circle r="40"/><text y="-4">finished<tspan x="0" dy="19.5">revit</tspan></text></g>
<g id="hi-finished-tut" class="n v" transform="rotate(204 1202 1311) translate(1364 1311) rotate(-204)"><circle r="40"/><text y="-13.7">finished<tspan x="0" dy="19.5">tut : 3d</tspan><tspan x="0" dy="19.5">model</tspan></text></g>
<g id="hi-hand-in-space" class="n b" transform="rotate(180 1202 1311) translate(1364 1311) rotate(-180)"><circle r="40"/><text y="5.8">hand in</text></g>
<g id="hi-hand-in-dash" class="n g" transform="rotate(156 1202 1311) translate(1364 1311) rotate(-156)"><circle r="40"/><text y="5.8">hand-in</text></g>
<g id="hi-interim" class="n y" transform="rotate(132 1202 1311) translate(1364 1311) rotate(-132)"><circle r="40"/><text y="5.8">interim</text></g>
<g id="hi-interim-sl" class="n o" transform="rotate(108 1202 1311) translate(1364 1311) rotate(-108)"><circle r="40"/><text y="-4">interim_s<tspan x="0" dy="19.5">l</tspan></text></g>
<g id="hi-interm" class="n p" transform="rotate(84 1202 1311) translate(1364 1311) rotate(-84)"><circle r="40"/><text y="5.8">interm</text></g>
<g id="hi-modelling-final" class="n v" transform="rotate(60 1202 1311) translate(1364 1311) rotate(-60)"><circle r="40"/><text y="-4">modellin<tspan x="0" dy="19.5">g final</tspan></text></g>
<g id="hi-provisional" class="n b" transform="rotate(36 1202 1311) translate(1364 1311) rotate(-36)"><circle r="40"/><text y="-4">provision<tspan x="0" dy="19.5">al</tspan></text></g>
<g id="hi-un-interim-hand-in" class="n g" transform="rotate(12 1202 1311) translate(1364 1311) rotate(-12)"><circle r="40"/><text y="-13.7">un_interi<tspan x="0" dy="19.5">m hand-</tspan><tspan x="0" dy="19.5">in</tspan></text></g>

<!-- system update -->
<g id="hub-system-update" class="h"><circle cx="954" cy="1498" r="47"/><text x="954" y="1493" font-size="18.6">system<tspan x="954" dy="21.7">update</tspan></text></g>
<g id="su-reasonate-update" class="n v" transform="translate(955 1412)"><circle r="40"/><text y="-4">reasonat<tspan x="0" dy="19.5">e update</tspan></text></g>
<g id="su-server-upgrade" class="n b" transform="translate(955 1585)"><circle r="40"/><text y="-4">server<tspan x="0" dy="19.5">upgrade</tspan></text></g>

<!-- assignment -->
<g id="hub-assignment" class="h"><circle cx="908" cy="1790" r="62"/><text x="908" y="1795.8" font-size="16">assignment</text></g>
<g id="as-assignment" class="n v" transform="translate(997 1744)"><circle r="40"/><text y="-4">assignm<tspan x="0" dy="19.5">ent</tspan></text></g>
<g id="as-assignment-1a" class="n b" transform="translate(929 1689)"><circle r="40"/><text y="-4">assignm<tspan x="0" dy="19.5">ent 1a</tspan></text></g>
<g id="as-assignment-2" class="n g" transform="translate(844 1708)"><circle r="40"/><text y="-4">assignm<tspan x="0" dy="19.5">ent 2</tspan></text></g>
<g id="as-assignment-renders" class="n y" transform="translate(805 1789)"><circle r="40"/><text y="-13.7">assignm<tspan x="0" dy="19.5">ent</tspan><tspan x="0" dy="19.5">renders</tspan></text></g>
<g id="as-assignment2" class="n o" transform="translate(844 1870)"><circle r="40"/><text y="-4">assignm<tspan x="0" dy="19.5">ent2</tspan></text></g>
<g id="as-phase-1a" class="n p" transform="translate(929 1888)"><circle r="40"/><text y="-4">phase<tspan x="0" dy="19.5">1a</tspan></text></g>
<g id="as-phase1a" class="n v" transform="translate(997 1834)"><circle r="40"/><text y="5.8">phase1a</text></g>

<!-- problem -->
<g id="hub-problem" class="h"><circle cx="1297" cy="1732" r="98"/><text x="1297" y="1744.4" font-size="34.5">problem</text></g>
<g id="pr-3ds-file-problems" class="n v" transform="rotate(-10 1297 1732) translate(1474 1732) rotate(10)"><circle r="40"/><text y="-13.7">3ds file<tspan x="0" dy="19.5">problem</tspan><tspan x="0" dy="19.5">s</tspan></text></g>
<g id="pr-errors" class="n b" transform="rotate(-30 1297 1732) translate(1474 1732) rotate(30)"><circle r="40"/><text y="5.8">errors</text></g>
<g id="pr-frustration" class="n g" transform="rotate(-50 1297 1732) translate(1474 1732) rotate(50)"><circle r="40"/><text y="-4">frustratio<tspan x="0" dy="19.5">n</tspan></text></g>
<g id="pr-help-needed" class="n y" transform="rotate(-70 1297 1732) translate(1474 1732) rotate(70)"><circle r="40"/><text y="-4">help<tspan x="0" dy="19.5">needed</tspan></text></g>
<g id="pr-import-problem" class="n o" transform="rotate(-90 1297 1732) translate(1474 1732) rotate(90)"><circle r="40"/><text y="-4">import_p<tspan x="0" dy="19.5">roblem</tspan></text></g>
<g id="pr-library-problems" class="n p" transform="rotate(-110 1297 1732) translate(1474 1732) rotate(110)"><circle r="40"/><text y="-13.7">library<tspan x="0" dy="19.5">problem</tspan><tspan x="0" dy="19.5">s</tspan></text></g>
<g id="pr-missing-parts-archicad" class="n v" transform="rotate(-130 1297 1732) translate(1474 1732) rotate(130)"><circle r="40"/><text y="-13.7">missing<tspan x="0" dy="19.5">parts</tspan><tspan x="0" dy="19.5">archicad</tspan></text></g>
<g id="pr-model-problems" class="n b" transform="rotate(-150 1297 1732) translate(1474 1732) rotate(150)"><circle r="40"/><text y="-4">model_p<tspan x="0" dy="19.5">roblems</tspan></text></g>
<g id="pr-no-stairs" class="n g" transform="rotate(-170 1297 1732) translate(1474 1732) rotate(170)"><circle r="40"/><text y="5.8">no stairs</text></g>
<g id="pr-no-uploads" class="n y" transform="rotate(170 1297 1732) translate(1474 1732) rotate(-170)"><circle r="40"/><text y="-4">no<tspan x="0" dy="19.5">uploads</tspan></text></g>
<g id="pr-out-of-scale" class="n o" transform="rotate(150 1297 1732) translate(1474 1732) rotate(-150)"><circle r="40"/><text y="-4">out of<tspan x="0" dy="19.5">scale</tspan></text></g>
<g id="pr-problem" class="n p" transform="rotate(130 1297 1732) translate(1474 1732) rotate(-130)"><circle r="40"/><text y="5.8">problem</text></g>
<g id="pr-problems" class="n v" transform="rotate(110 1297 1732) translate(1474 1732) rotate(-110)"><circle r="40"/><text y="-4">problem<tspan x="0" dy="19.5">s</tspan></text></g>
<g id="pr-questions" class="n b" transform="rotate(90 1297 1732) translate(1474 1732) rotate(-90)"><circle r="40"/><text y="-4">question<tspan x="0" dy="19.5">s</tspan></text></g>
<g id="pr-stupid-duplicate" class="n g" transform="rotate(70 1297 1732) translate(1474 1732) rotate(-70)"><circle r="40"/><text y="-4">stupid<tspan x="0" dy="19.5">duplicate</tspan></text></g>
<g id="pr-tutorial-error" class="n y" transform="rotate(50 1297 1732) translate(1474 1732) rotate(-50)"><circle r="40"/><text y="-4">tutorial<tspan x="0" dy="19.5">error</tspan></text></g>
<g id="pr-viz-problems" class="n o" transform="rotate(30 1297 1732) translate(1474 1732) rotate(-30)"><circle r="40"/><text y="-13.7">viz<tspan x="0" dy="19.5">problem</tspan><tspan x="0" dy="19.5">s</tspan></text></g>
<g id="pr-website-issues" class="n p" transform="rotate(10 1297 1732) translate(1474 1732) rotate(-10)"><circle r="40"/><text y="-4">website<tspan x="0" dy="19.5">issues</tspan></text></g>

<!-- tip -->
<g id="hub-tip" class="h"><circle cx="1531" cy="1205" r="53"/><text x="1531" y="1216.5" font-size="32">tip</text></g>
<g id="ti-bringing" class="n v t" transform="translate(1595 1138)"><circle r="40"/><text y="-16.4">bringing you<tspan x="0" dy="13.5">library with</tspan><tspan x="0" dy="13.5">you in</tspan><tspan x="0" dy="13.5">archicad</tspan></text></g>
<g id="ti-how-to-build-things" class="n b" transform="translate(1469 1138)"><circle r="40"/><text y="-13.7">how to<tspan x="0" dy="19.5">build</tspan><tspan x="0" dy="19.5">things</tspan></text></g>
<g id="ti-speeding-up" class="n g t" transform="translate(1469 1268)"><circle r="40"/><text y="-9.6">speeding up<tspan x="0" dy="13.5">savings in</tspan><tspan x="0" dy="13.5">archicad</tspan></text></g>
<g id="ti-useful-info" class="n y" transform="translate(1595 1268)"><circle r="40"/><text y="-4">useful<tspan x="0" dy="19.5">info</tspan></text></g>

<!-- project -->
<g id="hub-project" class="h"><circle cx="1983" cy="615" r="302"/><text x="1983" y="653" font-size="111">project</text></g>
<g id="pj-dy-basefile" class="n v" transform="rotate(356.33 1982 599) translate(2530 599) rotate(-356.33)"><circle r="40"/><text y="-4">dy_basef<tspan x="0" dy="19.5">ile</tspan></text></g>
<g id="pj-dy-cad" class="n b" transform="rotate(349.78 1982 599) translate(2530 599) rotate(-349.78)"><circle r="40"/><text y="5.8">dy_cad</text></g>
<g id="pj-dy-correspondence" class="n g" transform="rotate(343.24 1982 599) translate(2530 599) rotate(-343.24)"><circle r="40"/><text y="-13.7">dy_corre<tspan x="0" dy="19.5">sponden</tspan><tspan x="0" dy="19.5">ce</tspan></text></g>
<g id="pj-dy-dreamweaver" class="n y" transform="rotate(336.69 1982 599) translate(2530 599) rotate(-336.69)"><circle r="40"/><text y="-4">dy_drea<tspan x="0" dy="19.5">mweaver</tspan></text></g>
<g id="pj-dy-final-model" class="n o" transform="rotate(330.15 1982 599) translate(2530 599) rotate(-330.15)"><circle r="40"/><text y="-4">dy_final<tspan x="0" dy="19.5">model</tspan></text></g>
<g id="pj-dy-finalrenders" class="n p" transform="rotate(323.6 1982 599) translate(2530 599) rotate(-323.6)"><circle r="40"/><text y="-4">dy_finalr<tspan x="0" dy="19.5">enders</tspan></text></g>
<g id="pj-dy-handin" class="n v" transform="rotate(317.05 1982 599) translate(2530 599) rotate(-317.05)"><circle r="40"/><text y="-4">dy_handi<tspan x="0" dy="19.5">n</tspan></text></g>
<g id="pj-dy-h-cad" class="n b" transform="rotate(310.51 1982 599) translate(2530 599) rotate(-310.51)"><circle r="40"/><text y="-4">dy_h_ca<tspan x="0" dy="19.5">d</tspan></text></g>
<g id="pj-dy-h-pp" class="n g" transform="rotate(303.96 1982 599) translate(2530 599) rotate(-303.96)"><circle r="40"/><text y="5.8">dy_h_pp</text></g>
<g id="pj-dy-h-renders" class="n y" transform="rotate(297.42 1982 599) translate(2530 599) rotate(-297.42)"><circle r="40"/><text y="-4">dy_h_re<tspan x="0" dy="19.5">nders</tspan></text></g>
<g id="pj-dy-h-viz" class="n o" transform="rotate(290.87 1982 599) translate(2530 599) rotate(-290.87)"><circle r="40"/><text y="5.8">dy_h_viz</text></g>
<g id="pj-dy-images" class="n p" transform="rotate(284.33 1982 599) translate(2530 599) rotate(-284.33)"><circle r="40"/><text y="-4">dy_imag<tspan x="0" dy="19.5">es</tspan></text></g>
<g id="pj-dy-initial-renders" class="n v" transform="rotate(277.78 1982 599) translate(2530 599) rotate(-277.78)"><circle r="40"/><text y="-4">dy_initial<tspan x="0" dy="19.5">_renders</tspan></text></g>
<g id="pj-dy-j-cad" class="n b" transform="rotate(271.24 1982 599) translate(2530 599) rotate(-271.24)"><circle r="40"/><text y="5.8">dy_j_cad</text></g>
<g id="pj-dy-j-initialrenders" class="n g" transform="rotate(264.69 1982 599) translate(2530 599) rotate(-264.69)"><circle r="40"/><text y="-13.7">dy_j_initi<tspan x="0" dy="19.5">alrender</tspan><tspan x="0" dy="19.5">s</tspan></text></g>
<g id="pj-dy-m-modelprocess" class="n y" transform="rotate(258.15 1982 599) translate(2530 599) rotate(-258.15)"><circle r="40"/><text y="-13.7">dy_m_m<tspan x="0" dy="19.5">odelproc</tspan><tspan x="0" dy="19.5">ess</tspan></text></g>
<g id="pj-dy-original-plans" class="n o" transform="rotate(251.6 1982 599) translate(2530 599) rotate(-251.6)"><circle r="40"/><text y="-4">dy_origin<tspan x="0" dy="19.5">al plans</tspan></text></g>
<g id="pj-dy-plandivision" class="n p" transform="rotate(245.05 1982 599) translate(2530 599) rotate(-245.05)"><circle r="40"/><text y="-4">dy_pland<tspan x="0" dy="19.5">ivision</tspan></text></g>
<g id="pj-dy-powerpoint" class="n v" transform="rotate(238.51 1982 599) translate(2530 599) rotate(-238.51)"><circle r="40"/><text y="-4">dy_powe<tspan x="0" dy="19.5">rpoint</tspan></text></g>
<g id="pj-dy-project-standards" class="n b" transform="rotate(231.96 1982 599) translate(2530 599) rotate(-231.96)"><circle r="40"/><text y="-23.5">dy_proje<tspan x="0" dy="19.5">ct</tspan><tspan x="0" dy="19.5">standard</tspan><tspan x="0" dy="19.5">s</tspan></text></g>
<g id="pj-dy-references" class="n g" transform="rotate(225.42 1982 599) translate(2530 599) rotate(-225.42)"><circle r="40"/><text y="-4">dy_refer<tspan x="0" dy="19.5">ences</tspan></text></g>
<g id="pj-dy-renders" class="n y" transform="rotate(218.87 1982 599) translate(2530 599) rotate(-218.87)"><circle r="40"/><text y="-4">dy_rend<tspan x="0" dy="19.5">ers</tspan></text></g>
<g id="pj-dy-viz" class="n o" transform="rotate(212.33 1982 599) translate(2530 599) rotate(-212.33)"><circle r="40"/><text y="5.8">dy_viz</text></g>
<g id="pj-dy-viz-renders" class="n p" transform="rotate(205.78 1982 599) translate(2530 599) rotate(-205.78)"><circle r="40"/><text y="-4">dy_viz_r<tspan x="0" dy="19.5">enders</tspan></text></g>
<g id="pj-j-archicad" class="n v" transform="rotate(199.24 1982 599) translate(2530 599) rotate(-199.24)"><circle r="40"/><text y="-4">j_archica<tspan x="0" dy="19.5">d</tspan></text></g>
<g id="pj-j-autocad" class="n b" transform="rotate(192.69 1982 599) translate(2530 599) rotate(-192.69)"><circle r="40"/><text y="-4">j_autoca<tspan x="0" dy="19.5">d</tspan></text></g>
<g id="pj-j-revit" class="n g" transform="rotate(186.15 1982 599) translate(2530 599) rotate(-186.15)"><circle r="40"/><text y="5.8">j_revit</text></g>
<g id="pj-kunst" class="n y" transform="rotate(179.6 1982 599) translate(2530 599) rotate(-179.6)"><circle r="40"/><text y="5.8">kunst</text></g>
<g id="pj-m-archicad" class="n o" transform="rotate(173.05 1982 599) translate(2530 599) rotate(-173.05)"><circle r="40"/><text y="-4">m_archic<tspan x="0" dy="19.5">ad</tspan></text></g>
<g id="pj-m-autocad" class="n p" transform="rotate(166.51 1982 599) translate(2530 599) rotate(-166.51)"><circle r="40"/><text y="-4">m_autoc<tspan x="0" dy="19.5">ad</tspan></text></g>
<g id="pj-m-revit" class="n v" transform="rotate(159.96 1982 599) translate(2530 599) rotate(-159.96)"><circle r="40"/><text y="5.8">m_revit</text></g>
<g id="pj-m-viz" class="n b" transform="rotate(153.42 1982 599) translate(2530 599) rotate(-153.42)"><circle r="40"/><text y="5.8">m_viz</text></g>
<g id="pj-project" class="n g" transform="rotate(146.87 1982 599) translate(2530 599) rotate(-146.87)"><circle r="40"/><text y="5.8">project</text></g>
<g id="pj-project-1" class="n y" transform="rotate(140.33 1982 599) translate(2530 599) rotate(-140.33)"><circle r="40"/><text y="5.8">project 1</text></g>
<g id="pj-project-approvals" class="n o" transform="rotate(133.78 1982 599) translate(2530 599) rotate(-133.78)"><circle r="40"/><text y="-13.7">project_<tspan x="0" dy="19.5">approval</tspan><tspan x="0" dy="19.5">s</tspan></text></g>
<g id="pj-un-3ds-max" class="n p" transform="rotate(127.24 1982 599) translate(2530 599) rotate(-127.24)"><circle r="40"/><text y="-4">un_3ds<tspan x="0" dy="19.5">max</tspan></text></g>
<g id="pj-un-3ds-models" class="n v" transform="rotate(120.69 1982 599) translate(2530 599) rotate(-120.69)"><circle r="40"/><text y="-4">un_3ds<tspan x="0" dy="19.5">models</tspan></text></g>
<g id="pj-un-autocad-modelling" class="n b" transform="rotate(114.15 1982 599) translate(2530 599) rotate(-114.15)"><circle r="40"/><text y="-23.5">un_auto<tspan x="0" dy="19.5">cad</tspan><tspan x="0" dy="19.5">modellin</tspan><tspan x="0" dy="19.5">g</tspan></text></g>
<g id="pj-un-building-form" class="n g" transform="rotate(107.6 1982 599) translate(2530 599) rotate(-107.6)"><circle r="40"/><text y="-4">un_buildi<tspan x="0" dy="19.5">ng form</tspan></text></g>
<g id="pj-un-exterior-renders" class="n y" transform="rotate(101.05 1982 599) translate(2530 599) rotate(-101.05)"><circle r="40"/><text y="-13.7">un_exter<tspan x="0" dy="19.5">ior</tspan><tspan x="0" dy="19.5">renders</tspan></text></g>
<g id="pj-un-file-set-up" class="n o" transform="rotate(94.51 1982 599) translate(2530 599) rotate(-94.51)"><circle r="40"/><text y="-4">un_file<tspan x="0" dy="19.5">set-up</tspan></text></g>
<g id="pj-un-floor-plans" class="n p" transform="rotate(87.96 1982 599) translate(2530 599) rotate(-87.96)"><circle r="40"/><text y="-4">un_floor<tspan x="0" dy="19.5">plans</tspan></text></g>
<g id="pj-un-google-earth" class="n v" transform="rotate(81.42 1982 599) translate(2530 599) rotate(-81.42)"><circle r="40"/><text y="-4">un_goog<tspan x="0" dy="19.5">le earth</tspan></text></g>
<g id="pj-un-hdri-image" class="n b" transform="rotate(74.87 1982 599) translate(2530 599) rotate(-74.87)"><circle r="40"/><text y="-4">un_hdri<tspan x="0" dy="19.5">image</tspan></text></g>
<g id="pj-un-interim-hand-in" class="n g" transform="rotate(68.33 1982 599) translate(2530 599) rotate(-68.33)"><circle r="40"/><text y="-13.7">un_interi<tspan x="0" dy="19.5">m hand-</tspan><tspan x="0" dy="19.5">in</tspan></text></g>
<g id="pj-un-interior-ramps" class="n y" transform="rotate(61.78 1982 599) translate(2530 599) rotate(-61.78)"><circle r="40"/><text y="-4">un_interi<tspan x="0" dy="19.5">or ramps</tspan></text></g>
<g id="pj-un-landscape" class="n o" transform="rotate(55.24 1982 599) translate(2530 599) rotate(-55.24)"><circle r="40"/><text y="-4">un_lands<tspan x="0" dy="19.5">cape</tspan></text></g>
<g id="pj-un-rayfront" class="n p" transform="rotate(48.69 1982 599) translate(2530 599) rotate(-48.69)"><circle r="40"/><text y="-4">un_rayfr<tspan x="0" dy="19.5">ont</tspan></text></g>
<g id="pj-un-rendering" class="n v" transform="rotate(42.15 1982 599) translate(2530 599) rotate(-42.15)"><circle r="40"/><text y="-4">un_rend<tspan x="0" dy="19.5">ering</tspan></text></g>
<g id="pj-un-rendering-thoughts" class="n b" transform="rotate(35.6 1982 599) translate(2530 599) rotate(-35.6)"><circle r="40"/><text y="-13.7">un_rend<tspan x="0" dy="19.5">ering</tspan><tspan x="0" dy="19.5">thoughts</tspan></text></g>
<g id="pj-un-section-renders" class="n g" transform="rotate(29.05 1982 599) translate(2530 599) rotate(-29.05)"><circle r="40"/><text y="-13.7">un_secti<tspan x="0" dy="19.5">on</tspan><tspan x="0" dy="19.5">renders</tspan></text></g>
<g id="pj-un-un-studio" class="n y" transform="rotate(22.51 1982 599) translate(2530 599) rotate(-22.51)"><circle r="40"/><text y="-4">un_un<tspan x="0" dy="19.5">studio</tspan></text></g>
<g id="pj-un-viz-renders" class="n o" transform="rotate(15.96 1982 599) translate(2530 599) rotate(-15.96)"><circle r="40"/><text y="-4">un_viz<tspan x="0" dy="19.5">renders</tspan></text></g>
<g id="pj-un-website" class="n p" transform="rotate(9.42 1982 599) translate(2530 599) rotate(-9.42)"><circle r="40"/><text y="-4">un_webs<tspan x="0" dy="19.5">ite</tspan></text></g>
<g id="pj-un-windows" class="n v" transform="rotate(2.87 1982 599) translate(2530 599) rotate(-2.87)"><circle r="40"/><text y="-4">un_wind<tspan x="0" dy="19.5">ows</tspan></text></g>

<!-- rendering -->
<g id="hub-rendering" class="h"><circle cx="1895" cy="1590" r="190"/><text x="1895" y="1610" font-size="58">rendering</text></g>
<g id="rd-acad-renders" class="n v" transform="rotate(353.57 1893 1582) translate(2221 1582) rotate(-353.57)"><circle r="40"/><text y="-4">acad<tspan x="0" dy="19.5">renders</tspan></text></g>
<g id="rd-assignment-renders" class="n b" transform="rotate(340.71 1893 1582) translate(2221 1582) rotate(-340.71)"><circle r="40"/><text y="-13.7">assignm<tspan x="0" dy="19.5">ent</tspan><tspan x="0" dy="19.5">renders</tspan></text></g>
<g id="rd-dy-finalrenders" class="n g" transform="rotate(327.86 1893 1582) translate(2221 1582) rotate(-327.86)"><circle r="40"/><text y="-4">dy_finalr<tspan x="0" dy="19.5">enders</tspan></text></g>
<g id="rd-dy-h-renders" class="n y" transform="rotate(315 1893 1582) translate(2221 1582) rotate(-315)"><circle r="40"/><text y="-4">dy_h_re<tspan x="0" dy="19.5">nders</tspan></text></g>
<g id="rd-dy-initial-renders" class="n o" transform="rotate(302.14 1893 1582) translate(2221 1582) rotate(-302.14)"><circle r="40"/><text y="-4">dy_initial<tspan x="0" dy="19.5">_renders</tspan></text></g>
<g id="rd-dy-j-initialrenders" class="n p" transform="rotate(289.29 1893 1582) translate(2221 1582) rotate(-289.29)"><circle r="40"/><text y="-13.7">dy_j_initi<tspan x="0" dy="19.5">alrender</tspan><tspan x="0" dy="19.5">s</tspan></text></g>
<g id="rd-dy-renders" class="n v" transform="rotate(276.43 1893 1582) translate(2221 1582) rotate(-276.43)"><circle r="40"/><text y="-4">dy_rend<tspan x="0" dy="19.5">ers</tspan></text></g>
<g id="rd-dy-viz-renders" class="n b" transform="rotate(263.57 1893 1582) translate(2221 1582) rotate(-263.57)"><circle r="40"/><text y="-4">dy_viz_r<tspan x="0" dy="19.5">enders</tspan></text></g>
<g id="rd-final-renders" class="n g" transform="rotate(250.71 1893 1582) translate(2221 1582) rotate(-250.71)"><circle r="40"/><text y="-4">final<tspan x="0" dy="19.5">renders</tspan></text></g>
<g id="rd-first-render-tests" class="n y" transform="rotate(237.86 1893 1582) translate(2221 1582) rotate(-237.86)"><circle r="40"/><text y="-13.7">first<tspan x="0" dy="19.5">render</tspan><tspan x="0" dy="19.5">tests</tspan></text></g>
<g id="rd-hdri" class="n o" transform="rotate(225 1893 1582) translate(2221 1582) rotate(-225)"><circle r="40"/><text y="5.8">hdri</text></g>
<g id="rd-light-studio" class="n p" transform="rotate(212.14 1893 1582) translate(2221 1582) rotate(-212.14)"><circle r="40"/><text y="-4">light<tspan x="0" dy="19.5">studio</tspan></text></g>
<g id="rd-lighting-mental-ray" class="n v" transform="rotate(199.29 1893 1582) translate(2221 1582) rotate(-199.29)"><circle r="40"/><text y="-13.7">lighting_<tspan x="0" dy="19.5">mental</tspan><tspan x="0" dy="19.5">ray</tspan></text></g>
<g id="rd-lightstudio" class="n b" transform="rotate(186.43 1893 1582) translate(2221 1582) rotate(-186.43)"><circle r="40"/><text y="-4">lightstudi<tspan x="0" dy="19.5">o</tspan></text></g>
<g id="rd-mental-ray" class="n g" transform="rotate(173.57 1893 1582) translate(2221 1582) rotate(-173.57)"><circle r="40"/><text y="-4">mental<tspan x="0" dy="19.5">ray</tspan></text></g>
<g id="rd-radiosity" class="n y" transform="rotate(160.71 1893 1582) translate(2221 1582) rotate(-160.71)"><circle r="40"/><text y="5.8">radiosity</text></g>
<g id="rd-reflector" class="n o" transform="rotate(147.86 1893 1582) translate(2221 1582) rotate(-147.86)"><circle r="40"/><text y="5.8">reflector</text></g>
<g id="rd-render-ideas" class="n p" transform="rotate(135 1893 1582) translate(2221 1582) rotate(-135)"><circle r="40"/><text y="-4">render<tspan x="0" dy="19.5">ideas</tspan></text></g>
<g id="rd-rendering" class="n v" transform="rotate(122.14 1893 1582) translate(2221 1582) rotate(-122.14)"><circle r="40"/><text y="-4">renderin<tspan x="0" dy="19.5">g</tspan></text></g>
<g id="rd-rendering-engines" class="n b" transform="rotate(109.29 1893 1582) translate(2221 1582) rotate(-109.29)"><circle r="40"/><text y="-13.7">renderin<tspan x="0" dy="19.5">g</tspan><tspan x="0" dy="19.5">engines</tspan></text></g>
<g id="rd-renders" class="n g" transform="rotate(96.43 1893 1582) translate(2221 1582) rotate(-96.43)"><circle r="40"/><text y="5.8">renders</text></g>
<g id="rd-un-exterior-renders" class="n y" transform="rotate(83.57 1893 1582) translate(2221 1582) rotate(-83.57)"><circle r="40"/><text y="-13.7">un_exter<tspan x="0" dy="19.5">ior</tspan><tspan x="0" dy="19.5">renders</tspan></text></g>
<g id="rd-un-hdri-image" class="n o" transform="rotate(70.71 1893 1582) translate(2221 1582) rotate(-70.71)"><circle r="40"/><text y="-4">un_hdri<tspan x="0" dy="19.5">image</tspan></text></g>
<g id="rd-un-rayfront" class="n p" transform="rotate(57.86 1893 1582) translate(2221 1582) rotate(-57.86)"><circle r="40"/><text y="-4">un_rayfr<tspan x="0" dy="19.5">ont</tspan></text></g>
<g id="rd-un-rendering" class="n v" transform="rotate(45 1893 1582) translate(2221 1582) rotate(-45)"><circle r="40"/><text y="-4">un_rend<tspan x="0" dy="19.5">ering</tspan></text></g>
<g id="rd-un-rendering-thoughts" class="n b" transform="rotate(32.14 1893 1582) translate(2221 1582) rotate(-32.14)"><circle r="40"/><text y="-13.7">un_rend<tspan x="0" dy="19.5">ering</tspan><tspan x="0" dy="19.5">thoughts</tspan></text></g>
<g id="rd-un-section-renders" class="n g" transform="rotate(19.29 1893 1582) translate(2221 1582) rotate(-19.29)"><circle r="40"/><text y="-13.7">un_secti<tspan x="0" dy="19.5">on</tspan><tspan x="0" dy="19.5">renders</tspan></text></g>
<g id="rd-un-viz-renders" class="n y" transform="rotate(6.43 1893 1582) translate(2221 1582) rotate(-6.43)"><circle r="40"/><text y="-4">un_viz<tspan x="0" dy="19.5">renders</tspan></text></g>

<!-- 3d studio -->
<g id="hub-3d-studio" class="h"><circle cx="222" cy="1259" r="82"/><text x="222" y="1250" font-size="32">3d<tspan x="222" dy="40">studio</tspan></text></g>
<g id="st-3ds" class="n v" transform="rotate(-12.86 222 1259) translate(370 1259) rotate(12.86)"><circle r="40"/><text y="5.8">3ds</text></g>
<g id="st-3ds-file-problems" class="n b" transform="rotate(-38.57 222 1259) translate(370 1259) rotate(38.57)"><circle r="40"/><text y="-13.7">3ds file<tspan x="0" dy="19.5">problem</tspan><tspan x="0" dy="19.5">s</tspan></text></g>
<g id="st-dy-h-viz" class="n g" transform="rotate(-64.29 222 1259) translate(370 1259) rotate(64.29)"><circle r="40"/><text y="5.8">dy_h_viz</text></g>
<g id="st-dy-viz-renders" class="n y" transform="rotate(-90 222 1259) translate(370 1259) rotate(90)"><circle r="40"/><text y="-4">dy_viz_r<tspan x="0" dy="19.5">enders</tspan></text></g>
<g id="st-light-studio" class="n o" transform="rotate(-115.71 222 1259) translate(370 1259) rotate(115.71)"><circle r="40"/><text y="-4">light<tspan x="0" dy="19.5">studio</tspan></text></g>
<g id="st-lightstudio" class="n p" transform="rotate(-141.43 222 1259) translate(370 1259) rotate(141.43)"><circle r="40"/><text y="-4">lightstudi<tspan x="0" dy="19.5">o</tspan></text></g>
<g id="st-m-viz" class="n v" transform="rotate(-167.14 222 1259) translate(370 1259) rotate(167.14)"><circle r="40"/><text y="5.8">m_viz</text></g>
<g id="st-un-3ds-max" class="n b" transform="rotate(167.14 222 1259) translate(370 1259) rotate(-167.14)"><circle r="40"/><text y="-4">un_3ds<tspan x="0" dy="19.5">max</tspan></text></g>
<g id="st-un-3ds-models" class="n g" transform="rotate(141.43 222 1259) translate(370 1259) rotate(-141.43)"><circle r="40"/><text y="-4">un_3ds<tspan x="0" dy="19.5">models</tspan></text></g>
<g id="st-un-un-studio" class="n y" transform="rotate(115.71 222 1259) translate(370 1259) rotate(-115.71)"><circle r="40"/><text y="-4">un_un<tspan x="0" dy="19.5">studio</tspan></text></g>
<g id="st-un-viz-renders" class="n o" transform="rotate(90 222 1259) translate(370 1259) rotate(-90)"><circle r="40"/><text y="-4">un_viz<tspan x="0" dy="19.5">renders</tspan></text></g>
<g id="st-viz" class="n p" transform="rotate(64.29 222 1259) translate(370 1259) rotate(-64.29)"><circle r="40"/><text y="5.8">viz</text></g>
<g id="st-viz-problems" class="n v" transform="rotate(38.57 222 1259) translate(370 1259) rotate(-38.57)"><circle r="40"/><text y="-13.7">viz<tspan x="0" dy="19.5">problem</tspan><tspan x="0" dy="19.5">s</tspan></text></g>
<g id="st-viz-tut" class="n b" transform="rotate(12.86 222 1259) translate(370 1259) rotate(-12.86)"><circle r="40"/><text y="5.8">viz_tut</text></g>

<!-- powerpoint -->
<g id="hub-powerpoint" class="h"><circle cx="549" cy="1257" r="62"/><text x="549" y="1263" font-size="16">powerpoint</text></g>
<g id="pp-dy-h-pp" class="n v" transform="translate(614 1196)"><circle r="40"/><text y="5.8">dy_h_pp</text></g>
<g id="pp-dy-powerpoint" class="n b" transform="translate(485 1196)"><circle r="40"/><text y="-4">dy_powe<tspan x="0" dy="19.5">rpoint</tspan></text></g>
<g id="pp-powerpoint" class="n g" transform="translate(485 1317)"><circle r="40"/><text y="-4">powerpoi<tspan x="0" dy="19.5">nt</tspan></text></g>
<g id="pp-tutorial-ppt" class="n y" transform="translate(614 1317)"><circle r="40"/><text y="-4">tutorial<tspan x="0" dy="19.5">ppt</tspan></text></g>

<!-- autocad -->
<g id="hub-autocad" class="h"><circle cx="713" cy="1500" r="64"/><text x="713" y="1508.6" font-size="24">autocad</text></g>
<g id="ac-acad" class="n v" transform="translate(809 1467)"><circle r="40"/><text y="5.8">acad</text></g>
<g id="ac-acad-renders" class="n b" transform="translate(764 1413)"><circle r="40"/><text y="-4">acad<tspan x="0" dy="19.5">renders</tspan></text></g>
<g id="ac-autocad" class="n g" transform="translate(697 1401)"><circle r="40"/><text y="5.8">autocad</text></g>
<g id="ac-autocad-tutorial" class="n y" transform="translate(633 1435)"><circle r="40"/><text y="-4">autocad<tspan x="0" dy="19.5">tutorial</tspan></text></g>
<g id="ac-autocad-tut" class="n o" transform="translate(612 1503)"><circle r="40"/><text y="-4">autocad<tspan x="0" dy="19.5">_tut</tspan></text></g>
<g id="ac-finished-autocad" class="n p" transform="translate(636 1568)"><circle r="40"/><text y="-4">finished<tspan x="0" dy="19.5">autocad</tspan></text></g>
<g id="ac-j-autocad" class="n v" transform="translate(695 1602)"><circle r="40"/><text y="-4">j_autoca<tspan x="0" dy="19.5">d</tspan></text></g>
<g id="ac-m-autocad" class="n b" transform="translate(764 1590)"><circle r="40"/><text y="-4">m_autoc<tspan x="0" dy="19.5">ad</tspan></text></g>
<g id="ac-un-autocad-modelling" class="n g s" transform="translate(809 1536)"><circle r="40"/><text y="-11.3">un_autoca<tspan x="0" dy="16">d</tspan><tspan x="0" dy="16">modelling</tspan></text></g>

<!-- archicad -->
<g id="hub-archicad" class="h"><circle cx="581" cy="1789" r="62"/><text x="581" y="1797.6" font-size="24">archicad</text></g>
<g id="ah-archicad" class="n v" transform="translate(676 1757)"><circle r="40"/><text y="5.8">archicad</text></g>
<g id="ah-archicad-library" class="n b" transform="translate(640 1705)"><circle r="40"/><text y="-4">archicad<tspan x="0" dy="19.5">library</tspan></text></g>
<g id="ah-archicad-tutorial" class="n g s" transform="translate(582 1686)"><circle r="40"/><text y="-3.3">archicad<tspan x="0" dy="16">tutorial</tspan></text></g>
<g id="ah-archicad-tut" class="n y s" transform="translate(522 1705)"><circle r="40"/><text y="-3.3">archicad_t<tspan x="0" dy="16">ut</tspan></text></g>
<g id="ah-bringing" class="n o t" transform="translate(485 1756)"><circle r="40"/><text y="-16.4">bringing you<tspan x="0" dy="13.5">library with</tspan><tspan x="0" dy="13.5">you in</tspan><tspan x="0" dy="13.5">archicad</tspan></text></g>
<g id="ah-j-archicad" class="n p" transform="translate(486 1821)"><circle r="40"/><text y="-4">j_archica<tspan x="0" dy="19.5">d</tspan></text></g>
<g id="ah-j-autocad" class="n v" transform="translate(522 1873)"><circle r="40"/><text y="-4">j_autoca<tspan x="0" dy="19.5">d</tspan></text></g>
<g id="ah-missing-parts-archicad" class="n b s" transform="translate(581 1892)"><circle r="40"/><text y="-11.3">missing<tspan x="0" dy="16">parts</tspan><tspan x="0" dy="16">archicad</tspan></text></g>
<g id="ah-m-archicad" class="n g" transform="translate(640 1873)"><circle r="40"/><text y="-4">m_archic<tspan x="0" dy="19.5">ad</tspan></text></g>
<g id="ah-speeding-up" class="n y t" transform="translate(678 1820)"><circle r="40"/><text y="-9.6">speeding up<tspan x="0" dy="13.5">savings in</tspan><tspan x="0" dy="13.5">archicad</tspan></text></g>

<!-- revit -->
<g id="hub-revit" class="h"><circle cx="236" cy="1789" r="63"/><text x="236" y="1800.3" font-size="31.5">revit</text></g>
<g id="rt-finished-revit" class="n v" transform="translate(328 1749)"><circle r="40"/><text y="-4">finished<tspan x="0" dy="19.5">revit</tspan></text></g>
<g id="rt-j-revit" class="n b" transform="translate(276 1694)"><circle r="40"/><text y="5.8">j_revit</text></g>
<g id="rt-m-revit" class="n g" transform="translate(196 1694)"><circle r="40"/><text y="5.8">m_revit</text></g>
<g id="rt-revit" class="n y" transform="translate(142 1749)"><circle r="40"/><text y="5.8">revit</text></g>
<g id="rt-revit-printscreen" class="n o" transform="translate(142 1829)"><circle r="40"/><text y="-13.7">revit<tspan x="0" dy="19.5">printscre</tspan><tspan x="0" dy="19.5">en</tspan></text></g>
<g id="rt-revit-tutorial" class="n p" transform="translate(196 1883)"><circle r="40"/><text y="-4">revit<tspan x="0" dy="19.5">tutorial</tspan></text></g>
<g id="rt-revit-tut" class="n v" transform="translate(274 1883)"><circle r="40"/><text y="5.8">revit_tut</text></g>
<g id="rt-rivet-tutorial" class="n b" transform="translate(328 1829)"><circle r="40"/><text y="-4">rivet<tspan x="0" dy="19.5">tutorial</tspan></text></g>

<!-- google earth -->
<g id="hub-google-earth" class="h"><circle cx="61" cy="1547" r="47"/><text x="61" y="1540" font-size="21.2">google<tspan x="61" dy="26">earth</tspan></text></g>
<g id="ge-google-earth" class="n v" transform="translate(61 1460)"><circle r="40"/><text y="-4">google<tspan x="0" dy="19.5">earth</tspan></text></g>
<g id="ge-un-google-earth" class="n b" transform="translate(63 1633)"><circle r="40"/><text y="-4">un_goog<tspan x="0" dy="19.5">le earth</tspan></text></g>

<!-- glazing -->
<g id="hub-glazing" class="h"><circle cx="2260" cy="1258" r="52"/><text x="2260" y="1266.6" font-size="24">glazing</text></g>
<g id="gl-exterior-glazing" class="n v" transform="translate(2301 1179)"><circle r="40"/><text y="-4">exterior<tspan x="0" dy="19.5">glazing</tspan></text></g>
<g id="gl-glass" class="n b" transform="translate(2171 1257)"><circle r="40"/><text y="5.8">glass</text></g>
<g id="gl-un-windows" class="n g" transform="translate(2300 1332)"><circle r="40"/><text y="-4">un_wind<tspan x="0" dy="19.5">ows</tspan></text></g>

<!-- supervisor -->
<g id="hub-supervisor" class="h"><circle cx="2490" cy="1141" r="58"/><text x="2490" y="1146.8" font-size="16">supervisor</text></g>
<g id="sv-david-harrison" class="n v" transform="translate(2561 1088)"><circle r="40"/><text y="-4">david<tspan x="0" dy="19.5">harrison</tspan></text></g>
<g id="sv-mike-donn" class="n b" transform="translate(2463 1052)"><circle r="40"/><text y="-4">mike<tspan x="0" dy="19.5">donn</tspan></text></g>
<g id="sv-mike-remove" class="n g" transform="translate(2397 1134)"><circle r="40"/><text y="-4">mike<tspan x="0" dy="19.5">remove</tspan></text></g>
<g id="sv-project-approvals" class="n y" transform="translate(2460 1229)"><circle r="40"/><text y="-13.7">project_<tspan x="0" dy="19.5">approval</tspan><tspan x="0" dy="19.5">s</tspan></text></g>
<g id="sv-tutorials" class="n o" transform="translate(2561 1193)"><circle r="40"/><text y="5.8">tutorials</text></g>

<!-- website -->
<g id="hub-website" class="h"><circle cx="2466" cy="1452" r="62"/><text x="2466" y="1461.6" font-size="26.6">website</text></g>
<g id="ws-blog-edits" class="n v" transform="translate(2561 1418)"><circle r="40"/><text y="-4">blog<tspan x="0" dy="19.5">edits</tspan></text></g>
<g id="ws-dy-dreamweaver" class="n b" transform="translate(2517 1363)"><circle r="40"/><text y="-4">dy_drea<tspan x="0" dy="19.5">mweaver</tspan></text></g>
<g id="ws-personal-website-link" class="n g" transform="translate(2449 1350)"><circle r="40"/><text y="-13.7">personal<tspan x="0" dy="19.5">website</tspan><tspan x="0" dy="19.5">link</tspan></text></g>
<g id="ws-site" class="n y" transform="translate(2390 1387)"><circle r="40"/><text y="5.8">site?</text></g>
<g id="ws-technorati" class="n o" transform="translate(2366 1452)"><circle r="40"/><text y="-4">technora<tspan x="0" dy="19.5">ti</tspan></text></g>
<g id="ws-un-website" class="n p" transform="translate(2390 1517)"><circle r="40"/><text y="-4">un_webs<tspan x="0" dy="19.5">ite</tspan></text></g>
<g id="ws-webpage" class="n v" transform="translate(2449 1554)"><circle r="40"/><text y="5.8">webpage</text></g>
<g id="ws-website" class="n b" transform="translate(2517 1541)"><circle r="40"/><text y="5.8">website</text></g>
<g id="ws-website-issues" class="n g" transform="translate(2561 1487)"><circle r="40"/><text y="-4">website<tspan x="0" dy="19.5">issues</tspan></text></g>

<!-- image -->
<g id="hub-image" class="h"><circle cx="2403" cy="1753" r="63"/><text x="2403" y="1763.4" font-size="28.8">image</text></g>
<g id="im-awsome-image" class="n v" transform="translate(2496 1713)"><circle r="40"/><text y="-4">awsome<tspan x="0" dy="19.5">image</tspan></text></g>
<g id="im-dy-images" class="n b" transform="translate(2443 1657)"><circle r="40"/><text y="-4">dy_imag<tspan x="0" dy="19.5">es</tspan></text></g>
<g id="im-galleries" class="n g" transform="translate(2365 1657)"><circle r="40"/><text y="5.8">galleries</text></g>
<g id="im-images" class="n y" transform="translate(2311 1713)"><circle r="40"/><text y="5.8">images</text></g>
<g id="im-modelling-images" class="n o" transform="translate(2311 1793)"><circle r="40"/><text y="-4">modellin<tspan x="0" dy="19.5">g images</tspan></text></g>
<g id="im-real-picture" class="n p" transform="translate(2365 1848)"><circle r="40"/><text y="-4">real<tspan x="0" dy="19.5">picture</tspan></text></g>
<g id="im-screenshot" class="n v" transform="translate(2443 1848)"><circle r="40"/><text y="-4">screensh<tspan x="0" dy="19.5">ot</tspan></text></g>
<g id="im-un-hdri-image" class="n b" transform="translate(2496 1793)"><circle r="40"/><text y="-4">un_hdri<tspan x="0" dy="19.5">image</tspan></text></g>
</svg>
